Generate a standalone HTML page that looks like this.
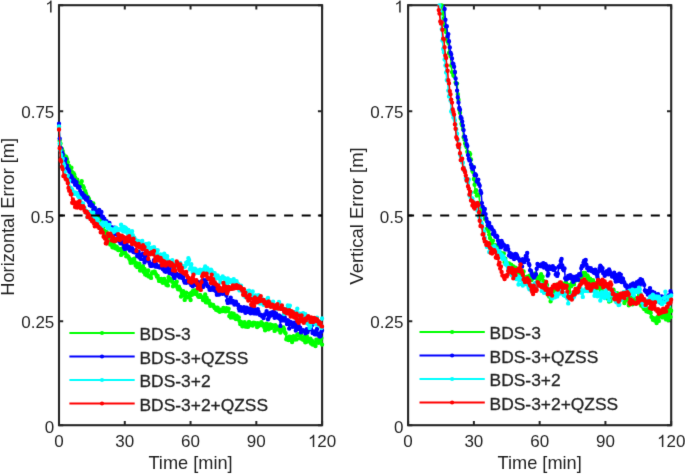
<!DOCTYPE html><html><head><meta charset="utf-8"><style>html,body{margin:0;padding:0;background:#fff;overflow:hidden}svg{display:block}text{font-family:"Liberation Sans",sans-serif;fill:#1f1f1f}</style></head><body>
<svg width="685" height="475" viewBox="0 0 685 475">
<defs>
<filter id="bl" x="0" y="0" width="1" height="1" color-interpolation-filters="sRGB"><feConvolveMatrix order="3" kernelMatrix="0.0081 0.0738 0.0081 0.0738 0.6724 0.0738 0.0081 0.0738 0.0081" divisor="1" edgeMode="duplicate"/></filter>
<clipPath id="cl"><rect x="59.0" y="5.2" width="263.1" height="420.0"/></clipPath>
<clipPath id="cld"><rect x="56.5" y="2.7" width="268.1" height="425.0"/></clipPath>
<clipPath id="cr"><rect x="408.1" y="5.2" width="263.1" height="420.0"/></clipPath>
<clipPath id="crd"><rect x="405.6" y="2.7" width="268.1" height="425.0"/></clipPath>
</defs>
<g filter="url(#bl)"><rect width="685" height="475" fill="#fff"/>
<rect x="59.0" y="5.2" width="263.1" height="420.0" fill="none" stroke="#262626" stroke-width="2.1"/><path d="M59.00 425.2v-4.2M59.00 5.2v4.2M59.0 425.20h4.2M322.1 425.20h-4.2M124.78 425.2v-4.2M124.78 5.2v4.2M59.0 321.20h4.2M322.1 321.20h-4.2M190.55 425.2v-4.2M190.55 5.2v4.2M59.0 215.60h4.2M322.1 215.60h-4.2M256.33 425.2v-4.2M256.33 5.2v4.2M59.0 111.20h4.2M322.1 111.20h-4.2M322.10 425.2v-4.2M322.10 5.2v4.2M59.0 5.20h4.2M322.1 5.20h-4.2" stroke="#262626" stroke-width="2" fill="none"/><text x="59.00" y="447" font-size="17" text-anchor="middle">0</text><text x="124.78" y="447" font-size="17" text-anchor="middle">30</text><text x="190.55" y="447" font-size="17" text-anchor="middle">60</text><text x="256.33" y="447" font-size="17" text-anchor="middle">90</text><polygon points="314.26,447.00 314.26,434.83 313.07,434.83 312.77,435.58 312.09,436.32 311.15,437.06 309.78,437.74 309.78,439.15 310.90,438.67 311.92,438.07 312.77,437.39 312.77,447.00" fill="#262626"/><text x="317.37" y="447" font-size="17">20</text><text x="54.30" y="432.60" font-size="17" text-anchor="end">0</text><text x="54.30" y="327.60" font-size="17" text-anchor="end">0.25</text><text x="54.30" y="222.60" font-size="17" text-anchor="end">0.5</text><text x="54.30" y="117.60" font-size="17" text-anchor="end">0.75</text><polygon points="51.59,12.60 51.59,0.43 50.40,0.43 50.09,1.18 49.41,1.92 48.48,2.66 47.10,3.34 47.10,4.75 48.22,4.27 49.24,3.68 50.09,3.00 50.09,12.60" fill="#262626"/><text x="190.55" y="468.5" font-size="18.2" text-anchor="middle">Time [min]</text><text transform="translate(13.8 216.80) rotate(-90)" font-size="18.2" text-anchor="middle">Horizontal Error [m]</text><g><polyline points="59.0,127.0 59.7,140.7 60.5,143.6 61.2,148.5 61.9,149.0 62.7,151.1 63.4,154.2 64.1,156.2 64.8,157.1 65.6,156.4 66.3,157.2 67.0,159.1 67.8,162.3 68.5,165.6 69.2,166.0 70.0,167.1 70.7,171.1 71.4,167.8 72.2,172.1 72.9,174.4 73.6,173.3 74.3,174.8 75.1,177.5 75.8,181.9 76.5,182.3 77.3,179.8 78.0,183.0 78.7,185.7 79.5,185.0 80.2,184.3 80.9,183.4 81.7,181.2 82.4,186.2 83.1,186.2 83.8,187.8 84.6,192.2 85.3,191.2 86.0,193.7 86.8,196.2 87.5,196.6 88.2,197.5 89.0,198.9 89.7,203.3 90.4,203.8 91.2,202.8 91.9,206.4 92.6,205.2 93.3,203.4 94.1,209.1 94.8,210.0 95.5,209.3 96.3,214.6 97.0,213.7 97.7,214.2 98.5,217.0 99.2,212.4 99.9,216.0 100.7,219.3 101.4,222.3 102.1,222.4 102.9,223.9 103.6,226.3 104.3,230.9 105.0,235.2 105.8,232.2 106.5,231.9 107.2,236.2 108.0,237.2 108.7,237.6 109.4,242.5 110.2,244.6 110.9,243.0 111.6,244.7 112.4,247.2 113.1,246.0 113.8,244.6 114.5,247.8 115.3,246.3 116.0,248.6 116.7,246.8 117.5,247.9 118.2,250.0 118.9,250.0 119.7,249.4 120.4,249.1 121.1,254.9 121.9,253.4 122.6,248.4 123.3,249.3 124.0,253.2 124.8,251.7 125.5,253.7 126.2,256.3 127.0,255.5 127.7,256.1 128.4,256.7 129.2,258.4 129.9,259.9 130.6,262.8 131.4,261.7 132.1,259.7 132.8,262.5 133.5,261.3 134.3,258.7 135.0,262.2 135.7,265.5 136.5,263.2 137.2,267.1 137.9,265.1 138.7,265.9 139.4,263.6 140.1,270.5 140.9,267.8 141.6,269.7 142.3,267.5 143.0,266.1 143.8,271.9 144.5,268.9 145.2,274.4 146.0,271.3 146.7,275.3 147.4,271.4 148.2,270.5 148.9,276.6 149.6,276.0 150.4,276.3 151.1,277.9 151.8,273.5 152.5,272.3 153.3,272.4 154.0,271.7 154.7,271.8 155.5,273.4 156.2,274.8 156.9,276.6 157.7,276.0 158.4,278.6 159.1,280.9 159.9,279.3 160.6,280.8 161.3,279.0 162.0,281.8 162.8,282.8 163.5,280.7 164.2,278.9 165.0,281.7 165.7,281.9 166.4,284.8 167.2,281.2 167.9,285.4 168.6,277.2 169.4,280.5 170.1,279.3 170.8,279.1 171.5,279.5 172.3,281.8 173.0,286.2 173.7,282.9 174.5,285.4 175.2,283.4 175.9,285.0 176.7,281.7 177.4,287.5 178.1,289.3 178.9,286.7 179.6,288.8 180.3,289.5 181.0,296.5 181.8,291.4 182.5,293.4 183.2,291.2 184.0,295.2 184.7,299.9 185.4,296.7 186.2,292.8 186.9,296.9 187.6,297.2 188.4,297.1 189.1,296.7 189.8,293.8 190.6,300.0 191.3,292.9 192.0,294.7 192.7,291.3 193.5,292.2 194.2,290.5 194.9,293.7 195.7,292.5 196.4,291.5 197.1,290.0 197.9,295.8 198.6,296.7 199.3,296.8 200.1,294.9 200.8,296.3 201.5,297.1 202.2,297.1 203.0,300.0 203.7,297.1 204.4,297.8 205.2,294.4 205.9,302.3 206.6,297.7 207.4,301.1 208.1,302.6 208.8,300.6 209.6,303.2 210.3,305.7 211.0,304.9 211.7,304.7 212.5,305.4 213.2,305.0 213.9,306.8 214.7,308.1 215.4,308.2 216.1,309.7 216.9,307.8 217.6,307.6 218.3,310.8 219.1,310.4 219.8,311.7 220.5,309.6 221.2,310.2 222.0,309.9 222.7,311.1 223.4,307.9 224.2,309.2 224.9,309.1 225.6,311.4 226.4,308.3 227.1,310.8 227.8,310.9 228.6,308.8 229.3,316.1 230.0,315.7 230.7,317.6 231.5,313.1 232.2,317.2 232.9,317.1 233.7,313.7 234.4,317.7 235.1,316.3 235.9,319.1 236.6,315.7 237.3,317.7 238.1,318.4 238.8,317.4 239.5,321.0 240.2,324.1 241.0,322.0 241.7,323.9 242.4,326.3 243.2,325.4 243.9,324.3 244.6,322.1 245.4,326.6 246.1,324.9 246.8,324.6 247.6,326.9 248.3,326.5 249.0,322.0 249.7,324.8 250.5,323.1 251.2,325.0 251.9,323.4 252.7,325.6 253.4,322.7 254.1,323.3 254.9,322.9 255.6,323.7 256.3,323.8 257.1,327.0 257.8,323.2 258.5,325.9 259.2,324.1 260.0,323.6 260.7,324.5 261.4,322.2 262.2,325.3 262.9,323.9 263.6,325.0 264.4,327.6 265.1,330.2 265.8,326.3 266.6,323.6 267.3,326.7 268.0,327.2 268.7,329.3 269.5,326.7 270.2,324.4 270.9,327.7 271.7,327.8 272.4,325.1 273.1,326.2 273.9,326.3 274.6,330.9 275.3,325.3 276.1,326.3 276.8,327.4 277.5,329.3 278.2,327.6 279.0,329.5 279.7,330.2 280.4,332.6 281.2,328.8 281.9,329.3 282.6,330.0 283.4,327.5 284.1,329.2 284.8,332.1 285.6,333.2 286.3,339.2 287.0,337.6 287.8,337.8 288.5,340.0 289.2,336.7 289.9,337.2 290.7,336.9 291.4,337.9 292.1,342.0 292.9,336.9 293.6,336.2 294.3,337.6 295.1,339.6 295.8,338.9 296.5,339.4 297.3,334.8 298.0,334.2 298.7,334.9 299.4,335.2 300.2,338.3 300.9,334.2 301.6,338.7 302.4,337.7 303.1,339.7 303.8,337.8 304.6,337.0 305.3,342.2 306.0,340.6 306.8,336.2 307.5,341.5 308.2,338.7 308.9,340.8 309.7,341.3 310.4,338.8 311.1,343.6 311.9,340.5 312.6,344.5 313.3,342.4 314.1,342.7 314.8,342.4 315.5,346.0 316.3,339.8 317.0,339.9 317.7,339.6 318.4,342.7 319.2,342.2 319.9,340.2 320.6,341.2 321.4,338.1 322.1,344.6" fill="none" stroke="#00ff00" stroke-width="1.6" stroke-linejoin="round" clip-path="url(#cl)"/><path d="M59.0 127.0h0M59.7 140.7h0M60.5 143.6h0M61.2 148.5h0M61.9 149.0h0M62.7 151.1h0M63.4 154.2h0M64.1 156.2h0M64.8 157.1h0M65.6 156.4h0M66.3 157.2h0M67.0 159.1h0M67.8 162.3h0M68.5 165.6h0M69.2 166.0h0M70.0 167.1h0M70.7 171.1h0M71.4 167.8h0M72.2 172.1h0M72.9 174.4h0M73.6 173.3h0M74.3 174.8h0M75.1 177.5h0M75.8 181.9h0M76.5 182.3h0M77.3 179.8h0M78.0 183.0h0M78.7 185.7h0M79.5 185.0h0M80.2 184.3h0M80.9 183.4h0M81.7 181.2h0M82.4 186.2h0M83.1 186.2h0M83.8 187.8h0M84.6 192.2h0M85.3 191.2h0M86.0 193.7h0M86.8 196.2h0M87.5 196.6h0M88.2 197.5h0M89.0 198.9h0M89.7 203.3h0M90.4 203.8h0M91.2 202.8h0M91.9 206.4h0M92.6 205.2h0M93.3 203.4h0M94.1 209.1h0M94.8 210.0h0M95.5 209.3h0M96.3 214.6h0M97.0 213.7h0M97.7 214.2h0M98.5 217.0h0M99.2 212.4h0M99.9 216.0h0M100.7 219.3h0M101.4 222.3h0M102.1 222.4h0M102.9 223.9h0M103.6 226.3h0M104.3 230.9h0M105.0 235.2h0M105.8 232.2h0M106.5 231.9h0M107.2 236.2h0M108.0 237.2h0M108.7 237.6h0M109.4 242.5h0M110.2 244.6h0M110.9 243.0h0M111.6 244.7h0M112.4 247.2h0M113.1 246.0h0M113.8 244.6h0M114.5 247.8h0M115.3 246.3h0M116.0 248.6h0M116.7 246.8h0M117.5 247.9h0M118.2 250.0h0M118.9 250.0h0M119.7 249.4h0M120.4 249.1h0M121.1 254.9h0M121.9 253.4h0M122.6 248.4h0M123.3 249.3h0M124.0 253.2h0M124.8 251.7h0M125.5 253.7h0M126.2 256.3h0M127.0 255.5h0M127.7 256.1h0M128.4 256.7h0M129.2 258.4h0M129.9 259.9h0M130.6 262.8h0M131.4 261.7h0M132.1 259.7h0M132.8 262.5h0M133.5 261.3h0M134.3 258.7h0M135.0 262.2h0M135.7 265.5h0M136.5 263.2h0M137.2 267.1h0M137.9 265.1h0M138.7 265.9h0M139.4 263.6h0M140.1 270.5h0M140.9 267.8h0M141.6 269.7h0M142.3 267.5h0M143.0 266.1h0M143.8 271.9h0M144.5 268.9h0M145.2 274.4h0M146.0 271.3h0M146.7 275.3h0M147.4 271.4h0M148.2 270.5h0M148.9 276.6h0M149.6 276.0h0M150.4 276.3h0M151.1 277.9h0M151.8 273.5h0M152.5 272.3h0M153.3 272.4h0M154.0 271.7h0M154.7 271.8h0M155.5 273.4h0M156.2 274.8h0M156.9 276.6h0M157.7 276.0h0M158.4 278.6h0M159.1 280.9h0M159.9 279.3h0M160.6 280.8h0M161.3 279.0h0M162.0 281.8h0M162.8 282.8h0M163.5 280.7h0M164.2 278.9h0M165.0 281.7h0M165.7 281.9h0M166.4 284.8h0M167.2 281.2h0M167.9 285.4h0M168.6 277.2h0M169.4 280.5h0M170.1 279.3h0M170.8 279.1h0M171.5 279.5h0M172.3 281.8h0M173.0 286.2h0M173.7 282.9h0M174.5 285.4h0M175.2 283.4h0M175.9 285.0h0M176.7 281.7h0M177.4 287.5h0M178.1 289.3h0M178.9 286.7h0M179.6 288.8h0M180.3 289.5h0M181.0 296.5h0M181.8 291.4h0M182.5 293.4h0M183.2 291.2h0M184.0 295.2h0M184.7 299.9h0M185.4 296.7h0M186.2 292.8h0M186.9 296.9h0M187.6 297.2h0M188.4 297.1h0M189.1 296.7h0M189.8 293.8h0M190.6 300.0h0M191.3 292.9h0M192.0 294.7h0M192.7 291.3h0M193.5 292.2h0M194.2 290.5h0M194.9 293.7h0M195.7 292.5h0M196.4 291.5h0M197.1 290.0h0M197.9 295.8h0M198.6 296.7h0M199.3 296.8h0M200.1 294.9h0M200.8 296.3h0M201.5 297.1h0M202.2 297.1h0M203.0 300.0h0M203.7 297.1h0M204.4 297.8h0M205.2 294.4h0M205.9 302.3h0M206.6 297.7h0M207.4 301.1h0M208.1 302.6h0M208.8 300.6h0M209.6 303.2h0M210.3 305.7h0M211.0 304.9h0M211.7 304.7h0M212.5 305.4h0M213.2 305.0h0M213.9 306.8h0M214.7 308.1h0M215.4 308.2h0M216.1 309.7h0M216.9 307.8h0M217.6 307.6h0M218.3 310.8h0M219.1 310.4h0M219.8 311.7h0M220.5 309.6h0M221.2 310.2h0M222.0 309.9h0M222.7 311.1h0M223.4 307.9h0M224.2 309.2h0M224.9 309.1h0M225.6 311.4h0M226.4 308.3h0M227.1 310.8h0M227.8 310.9h0M228.6 308.8h0M229.3 316.1h0M230.0 315.7h0M230.7 317.6h0M231.5 313.1h0M232.2 317.2h0M232.9 317.1h0M233.7 313.7h0M234.4 317.7h0M235.1 316.3h0M235.9 319.1h0M236.6 315.7h0M237.3 317.7h0M238.1 318.4h0M238.8 317.4h0M239.5 321.0h0M240.2 324.1h0M241.0 322.0h0M241.7 323.9h0M242.4 326.3h0M243.2 325.4h0M243.9 324.3h0M244.6 322.1h0M245.4 326.6h0M246.1 324.9h0M246.8 324.6h0M247.6 326.9h0M248.3 326.5h0M249.0 322.0h0M249.7 324.8h0M250.5 323.1h0M251.2 325.0h0M251.9 323.4h0M252.7 325.6h0M253.4 322.7h0M254.1 323.3h0M254.9 322.9h0M255.6 323.7h0M256.3 323.8h0M257.1 327.0h0M257.8 323.2h0M258.5 325.9h0M259.2 324.1h0M260.0 323.6h0M260.7 324.5h0M261.4 322.2h0M262.2 325.3h0M262.9 323.9h0M263.6 325.0h0M264.4 327.6h0M265.1 330.2h0M265.8 326.3h0M266.6 323.6h0M267.3 326.7h0M268.0 327.2h0M268.7 329.3h0M269.5 326.7h0M270.2 324.4h0M270.9 327.7h0M271.7 327.8h0M272.4 325.1h0M273.1 326.2h0M273.9 326.3h0M274.6 330.9h0M275.3 325.3h0M276.1 326.3h0M276.8 327.4h0M277.5 329.3h0M278.2 327.6h0M279.0 329.5h0M279.7 330.2h0M280.4 332.6h0M281.2 328.8h0M281.9 329.3h0M282.6 330.0h0M283.4 327.5h0M284.1 329.2h0M284.8 332.1h0M285.6 333.2h0M286.3 339.2h0M287.0 337.6h0M287.8 337.8h0M288.5 340.0h0M289.2 336.7h0M289.9 337.2h0M290.7 336.9h0M291.4 337.9h0M292.1 342.0h0M292.9 336.9h0M293.6 336.2h0M294.3 337.6h0M295.1 339.6h0M295.8 338.9h0M296.5 339.4h0M297.3 334.8h0M298.0 334.2h0M298.7 334.9h0M299.4 335.2h0M300.2 338.3h0M300.9 334.2h0M301.6 338.7h0M302.4 337.7h0M303.1 339.7h0M303.8 337.8h0M304.6 337.0h0M305.3 342.2h0M306.0 340.6h0M306.8 336.2h0M307.5 341.5h0M308.2 338.7h0M308.9 340.8h0M309.7 341.3h0M310.4 338.8h0M311.1 343.6h0M311.9 340.5h0M312.6 344.5h0M313.3 342.4h0M314.1 342.7h0M314.8 342.4h0M315.5 346.0h0M316.3 339.8h0M317.0 339.9h0M317.7 339.6h0M318.4 342.7h0M319.2 342.2h0M319.9 340.2h0M320.6 341.2h0M321.4 338.1h0M322.1 344.6h0" stroke="#00ff00" stroke-width="4.4" stroke-linecap="round" clip-path="url(#cld)"/><polyline points="59.0,123.8 59.7,138.6 60.5,147.7 61.2,148.6 61.9,152.1 62.7,154.3 63.4,158.6 64.1,159.3 64.8,162.7 65.6,159.1 66.3,167.4 67.0,165.6 67.8,168.9 68.5,169.5 69.2,171.3 70.0,174.9 70.7,177.1 71.4,176.3 72.2,177.9 72.9,181.5 73.6,180.4 74.3,180.2 75.1,184.8 75.8,183.8 76.5,182.3 77.3,185.8 78.0,187.5 78.7,186.8 79.5,187.0 80.2,190.9 80.9,194.1 81.7,192.9 82.4,193.2 83.1,196.4 83.8,197.5 84.6,195.8 85.3,197.8 86.0,199.6 86.8,197.9 87.5,197.6 88.2,201.1 89.0,202.2 89.7,205.2 90.4,201.9 91.2,204.5 91.9,205.9 92.6,205.3 93.3,209.7 94.1,210.7 94.8,207.9 95.5,212.2 96.3,211.4 97.0,211.7 97.7,212.2 98.5,213.8 99.2,209.9 99.9,214.5 100.7,215.4 101.4,211.9 102.1,216.9 102.9,216.6 103.6,219.6 104.3,218.6 105.0,220.7 105.8,222.9 106.5,221.3 107.2,224.7 108.0,223.4 108.7,224.3 109.4,222.9 110.2,226.8 110.9,227.4 111.6,227.3 112.4,229.7 113.1,231.7 113.8,233.5 114.5,227.8 115.3,234.1 116.0,234.3 116.7,234.5 117.5,234.4 118.2,240.6 118.9,236.9 119.7,241.3 120.4,243.2 121.1,238.0 121.9,241.3 122.6,240.3 123.3,244.4 124.0,247.6 124.8,249.0 125.5,241.3 126.2,243.6 127.0,246.0 127.7,248.6 128.4,247.7 129.2,247.0 129.9,250.5 130.6,249.9 131.4,249.5 132.1,248.3 132.8,251.1 133.5,252.1 134.3,252.2 135.0,252.3 135.7,250.2 136.5,252.0 137.2,256.1 137.9,254.0 138.7,252.0 139.4,257.6 140.1,255.8 140.9,258.9 141.6,255.0 142.3,254.8 143.0,253.6 143.8,259.6 144.5,262.4 145.2,255.6 146.0,256.7 146.7,259.8 147.4,258.2 148.2,260.5 148.9,261.3 149.6,263.3 150.4,265.7 151.1,263.9 151.8,265.9 152.5,263.8 153.3,265.2 154.0,260.3 154.7,261.7 155.5,266.5 156.2,264.3 156.9,266.6 157.7,266.2 158.4,267.1 159.1,266.2 159.9,267.5 160.6,266.3 161.3,266.4 162.0,267.5 162.8,269.1 163.5,268.9 164.2,270.5 165.0,271.4 165.7,271.8 166.4,270.3 167.2,267.2 167.9,270.7 168.6,271.4 169.4,273.0 170.1,271.8 170.8,269.0 171.5,268.5 172.3,274.3 173.0,272.8 173.7,276.6 174.5,278.0 175.2,272.4 175.9,274.3 176.7,274.0 177.4,274.7 178.1,275.6 178.9,276.3 179.6,277.4 180.3,274.6 181.0,277.5 181.8,276.1 182.5,278.0 183.2,277.5 184.0,280.7 184.7,282.5 185.4,282.4 186.2,282.8 186.9,282.2 187.6,280.5 188.4,280.8 189.1,280.3 189.8,282.8 190.6,283.1 191.3,285.1 192.0,281.7 192.7,286.2 193.5,282.5 194.2,282.4 194.9,283.7 195.7,283.2 196.4,285.0 197.1,283.0 197.9,281.9 198.6,282.4 199.3,287.0 200.1,285.0 200.8,282.5 201.5,284.4 202.2,280.8 203.0,287.1 203.7,280.3 204.4,284.1 205.2,284.2 205.9,280.2 206.6,283.8 207.4,286.0 208.1,286.2 208.8,287.0 209.6,289.7 210.3,289.0 211.0,289.7 211.7,288.7 212.5,289.6 213.2,286.6 213.9,290.1 214.7,288.3 215.4,288.2 216.1,291.6 216.9,294.8 217.6,293.7 218.3,291.3 219.1,294.6 219.8,292.5 220.5,293.5 221.2,293.4 222.0,288.6 222.7,293.8 223.4,291.1 224.2,292.1 224.9,291.3 225.6,292.7 226.4,295.6 227.1,300.6 227.8,302.9 228.6,299.7 229.3,302.4 230.0,300.4 230.7,297.6 231.5,302.0 232.2,302.5 232.9,301.0 233.7,303.1 234.4,304.5 235.1,302.6 235.9,301.8 236.6,304.6 237.3,304.8 238.1,304.8 238.8,308.3 239.5,310.4 240.2,306.9 241.0,310.1 241.7,310.8 242.4,310.1 243.2,310.4 243.9,307.1 244.6,309.8 245.4,312.7 246.1,310.5 246.8,307.6 247.6,310.1 248.3,311.8 249.0,310.4 249.7,308.9 250.5,313.3 251.2,307.9 251.9,311.4 252.7,310.4 253.4,308.1 254.1,313.4 254.9,312.1 255.6,309.8 256.3,313.6 257.1,311.8 257.8,309.1 258.5,311.8 259.2,314.1 260.0,315.0 260.7,314.7 261.4,315.0 262.2,316.5 262.9,315.6 263.6,318.0 264.4,315.2 265.1,314.3 265.8,314.1 266.6,311.3 267.3,313.1 268.0,319.3 268.7,317.7 269.5,316.0 270.2,315.8 270.9,312.7 271.7,313.7 272.4,312.1 273.1,314.9 273.9,311.6 274.6,317.8 275.3,314.8 276.1,313.4 276.8,316.9 277.5,316.7 278.2,317.7 279.0,315.4 279.7,318.7 280.4,325.9 281.2,316.7 281.9,320.4 282.6,319.4 283.4,320.4 284.1,316.2 284.8,317.4 285.6,320.7 286.3,320.2 287.0,324.1 287.8,320.3 288.5,322.8 289.2,328.6 289.9,321.8 290.7,321.9 291.4,324.5 292.1,324.8 292.9,326.7 293.6,324.9 294.3,322.7 295.1,325.0 295.8,330.6 296.5,328.9 297.3,321.4 298.0,327.0 298.7,325.7 299.4,328.9 300.2,327.7 300.9,332.2 301.6,330.7 302.4,331.1 303.1,330.2 303.8,330.4 304.6,331.4 305.3,333.2 306.0,331.4 306.8,329.2 307.5,332.3 308.2,330.0 308.9,329.8 309.7,328.8 310.4,329.4 311.1,329.4 311.9,325.3 312.6,333.1 313.3,332.5 314.1,331.5 314.8,334.3 315.5,333.8 316.3,334.2 317.0,329.0 317.7,333.4 318.4,334.2 319.2,336.0 319.9,336.5 320.6,336.1 321.4,331.7 322.1,330.3" fill="none" stroke="#0000ff" stroke-width="1.6" stroke-linejoin="round" clip-path="url(#cl)"/><path d="M59.0 123.8h0M59.7 138.6h0M60.5 147.7h0M61.2 148.6h0M61.9 152.1h0M62.7 154.3h0M63.4 158.6h0M64.1 159.3h0M64.8 162.7h0M65.6 159.1h0M66.3 167.4h0M67.0 165.6h0M67.8 168.9h0M68.5 169.5h0M69.2 171.3h0M70.0 174.9h0M70.7 177.1h0M71.4 176.3h0M72.2 177.9h0M72.9 181.5h0M73.6 180.4h0M74.3 180.2h0M75.1 184.8h0M75.8 183.8h0M76.5 182.3h0M77.3 185.8h0M78.0 187.5h0M78.7 186.8h0M79.5 187.0h0M80.2 190.9h0M80.9 194.1h0M81.7 192.9h0M82.4 193.2h0M83.1 196.4h0M83.8 197.5h0M84.6 195.8h0M85.3 197.8h0M86.0 199.6h0M86.8 197.9h0M87.5 197.6h0M88.2 201.1h0M89.0 202.2h0M89.7 205.2h0M90.4 201.9h0M91.2 204.5h0M91.9 205.9h0M92.6 205.3h0M93.3 209.7h0M94.1 210.7h0M94.8 207.9h0M95.5 212.2h0M96.3 211.4h0M97.0 211.7h0M97.7 212.2h0M98.5 213.8h0M99.2 209.9h0M99.9 214.5h0M100.7 215.4h0M101.4 211.9h0M102.1 216.9h0M102.9 216.6h0M103.6 219.6h0M104.3 218.6h0M105.0 220.7h0M105.8 222.9h0M106.5 221.3h0M107.2 224.7h0M108.0 223.4h0M108.7 224.3h0M109.4 222.9h0M110.2 226.8h0M110.9 227.4h0M111.6 227.3h0M112.4 229.7h0M113.1 231.7h0M113.8 233.5h0M114.5 227.8h0M115.3 234.1h0M116.0 234.3h0M116.7 234.5h0M117.5 234.4h0M118.2 240.6h0M118.9 236.9h0M119.7 241.3h0M120.4 243.2h0M121.1 238.0h0M121.9 241.3h0M122.6 240.3h0M123.3 244.4h0M124.0 247.6h0M124.8 249.0h0M125.5 241.3h0M126.2 243.6h0M127.0 246.0h0M127.7 248.6h0M128.4 247.7h0M129.2 247.0h0M129.9 250.5h0M130.6 249.9h0M131.4 249.5h0M132.1 248.3h0M132.8 251.1h0M133.5 252.1h0M134.3 252.2h0M135.0 252.3h0M135.7 250.2h0M136.5 252.0h0M137.2 256.1h0M137.9 254.0h0M138.7 252.0h0M139.4 257.6h0M140.1 255.8h0M140.9 258.9h0M141.6 255.0h0M142.3 254.8h0M143.0 253.6h0M143.8 259.6h0M144.5 262.4h0M145.2 255.6h0M146.0 256.7h0M146.7 259.8h0M147.4 258.2h0M148.2 260.5h0M148.9 261.3h0M149.6 263.3h0M150.4 265.7h0M151.1 263.9h0M151.8 265.9h0M152.5 263.8h0M153.3 265.2h0M154.0 260.3h0M154.7 261.7h0M155.5 266.5h0M156.2 264.3h0M156.9 266.6h0M157.7 266.2h0M158.4 267.1h0M159.1 266.2h0M159.9 267.5h0M160.6 266.3h0M161.3 266.4h0M162.0 267.5h0M162.8 269.1h0M163.5 268.9h0M164.2 270.5h0M165.0 271.4h0M165.7 271.8h0M166.4 270.3h0M167.2 267.2h0M167.9 270.7h0M168.6 271.4h0M169.4 273.0h0M170.1 271.8h0M170.8 269.0h0M171.5 268.5h0M172.3 274.3h0M173.0 272.8h0M173.7 276.6h0M174.5 278.0h0M175.2 272.4h0M175.9 274.3h0M176.7 274.0h0M177.4 274.7h0M178.1 275.6h0M178.9 276.3h0M179.6 277.4h0M180.3 274.6h0M181.0 277.5h0M181.8 276.1h0M182.5 278.0h0M183.2 277.5h0M184.0 280.7h0M184.7 282.5h0M185.4 282.4h0M186.2 282.8h0M186.9 282.2h0M187.6 280.5h0M188.4 280.8h0M189.1 280.3h0M189.8 282.8h0M190.6 283.1h0M191.3 285.1h0M192.0 281.7h0M192.7 286.2h0M193.5 282.5h0M194.2 282.4h0M194.9 283.7h0M195.7 283.2h0M196.4 285.0h0M197.1 283.0h0M197.9 281.9h0M198.6 282.4h0M199.3 287.0h0M200.1 285.0h0M200.8 282.5h0M201.5 284.4h0M202.2 280.8h0M203.0 287.1h0M203.7 280.3h0M204.4 284.1h0M205.2 284.2h0M205.9 280.2h0M206.6 283.8h0M207.4 286.0h0M208.1 286.2h0M208.8 287.0h0M209.6 289.7h0M210.3 289.0h0M211.0 289.7h0M211.7 288.7h0M212.5 289.6h0M213.2 286.6h0M213.9 290.1h0M214.7 288.3h0M215.4 288.2h0M216.1 291.6h0M216.9 294.8h0M217.6 293.7h0M218.3 291.3h0M219.1 294.6h0M219.8 292.5h0M220.5 293.5h0M221.2 293.4h0M222.0 288.6h0M222.7 293.8h0M223.4 291.1h0M224.2 292.1h0M224.9 291.3h0M225.6 292.7h0M226.4 295.6h0M227.1 300.6h0M227.8 302.9h0M228.6 299.7h0M229.3 302.4h0M230.0 300.4h0M230.7 297.6h0M231.5 302.0h0M232.2 302.5h0M232.9 301.0h0M233.7 303.1h0M234.4 304.5h0M235.1 302.6h0M235.9 301.8h0M236.6 304.6h0M237.3 304.8h0M238.1 304.8h0M238.8 308.3h0M239.5 310.4h0M240.2 306.9h0M241.0 310.1h0M241.7 310.8h0M242.4 310.1h0M243.2 310.4h0M243.9 307.1h0M244.6 309.8h0M245.4 312.7h0M246.1 310.5h0M246.8 307.6h0M247.6 310.1h0M248.3 311.8h0M249.0 310.4h0M249.7 308.9h0M250.5 313.3h0M251.2 307.9h0M251.9 311.4h0M252.7 310.4h0M253.4 308.1h0M254.1 313.4h0M254.9 312.1h0M255.6 309.8h0M256.3 313.6h0M257.1 311.8h0M257.8 309.1h0M258.5 311.8h0M259.2 314.1h0M260.0 315.0h0M260.7 314.7h0M261.4 315.0h0M262.2 316.5h0M262.9 315.6h0M263.6 318.0h0M264.4 315.2h0M265.1 314.3h0M265.8 314.1h0M266.6 311.3h0M267.3 313.1h0M268.0 319.3h0M268.7 317.7h0M269.5 316.0h0M270.2 315.8h0M270.9 312.7h0M271.7 313.7h0M272.4 312.1h0M273.1 314.9h0M273.9 311.6h0M274.6 317.8h0M275.3 314.8h0M276.1 313.4h0M276.8 316.9h0M277.5 316.7h0M278.2 317.7h0M279.0 315.4h0M279.7 318.7h0M280.4 325.9h0M281.2 316.7h0M281.9 320.4h0M282.6 319.4h0M283.4 320.4h0M284.1 316.2h0M284.8 317.4h0M285.6 320.7h0M286.3 320.2h0M287.0 324.1h0M287.8 320.3h0M288.5 322.8h0M289.2 328.6h0M289.9 321.8h0M290.7 321.9h0M291.4 324.5h0M292.1 324.8h0M292.9 326.7h0M293.6 324.9h0M294.3 322.7h0M295.1 325.0h0M295.8 330.6h0M296.5 328.9h0M297.3 321.4h0M298.0 327.0h0M298.7 325.7h0M299.4 328.9h0M300.2 327.7h0M300.9 332.2h0M301.6 330.7h0M302.4 331.1h0M303.1 330.2h0M303.8 330.4h0M304.6 331.4h0M305.3 333.2h0M306.0 331.4h0M306.8 329.2h0M307.5 332.3h0M308.2 330.0h0M308.9 329.8h0M309.7 328.8h0M310.4 329.4h0M311.1 329.4h0M311.9 325.3h0M312.6 333.1h0M313.3 332.5h0M314.1 331.5h0M314.8 334.3h0M315.5 333.8h0M316.3 334.2h0M317.0 329.0h0M317.7 333.4h0M318.4 334.2h0M319.2 336.0h0M319.9 336.5h0M320.6 336.1h0M321.4 331.7h0M322.1 330.3h0" stroke="#0000ff" stroke-width="4.4" stroke-linecap="round" clip-path="url(#cld)"/><polyline points="59.0,126.4 59.7,143.4 60.5,150.0 61.2,154.9 61.9,160.5 62.7,158.7 63.4,163.4 64.1,165.6 64.8,171.7 65.6,177.3 66.3,177.0 67.0,179.4 67.8,175.8 68.5,181.3 69.2,180.7 70.0,187.7 70.7,187.8 71.4,189.8 72.2,189.5 72.9,192.5 73.6,193.9 74.3,192.5 75.1,192.5 75.8,193.7 76.5,193.0 77.3,193.9 78.0,195.9 78.7,196.9 79.5,201.7 80.2,198.5 80.9,204.7 81.7,202.8 82.4,204.3 83.1,203.8 83.8,207.3 84.6,208.1 85.3,210.4 86.0,210.6 86.8,213.2 87.5,217.2 88.2,214.3 89.0,211.9 89.7,214.7 90.4,212.8 91.2,215.0 91.9,215.9 92.6,214.9 93.3,212.6 94.1,216.2 94.8,218.8 95.5,217.6 96.3,220.4 97.0,221.9 97.7,219.4 98.5,223.3 99.2,224.4 99.9,223.8 100.7,224.1 101.4,224.0 102.1,226.3 102.9,222.5 103.6,222.7 104.3,224.9 105.0,223.1 105.8,222.6 106.5,224.8 107.2,227.5 108.0,228.3 108.7,225.0 109.4,225.0 110.2,228.8 110.9,229.0 111.6,229.3 112.4,230.8 113.1,232.2 113.8,230.7 114.5,231.4 115.3,228.0 116.0,227.6 116.7,230.1 117.5,230.5 118.2,229.9 118.9,229.3 119.7,229.6 120.4,229.5 121.1,224.7 121.9,227.2 122.6,230.4 123.3,231.3 124.0,226.9 124.8,231.6 125.5,227.7 126.2,228.8 127.0,231.2 127.7,233.4 128.4,230.0 129.2,235.2 129.9,233.7 130.6,232.5 131.4,234.1 132.1,231.2 132.8,235.3 133.5,238.2 134.3,237.8 135.0,239.5 135.7,240.2 136.5,240.5 137.2,242.6 137.9,241.1 138.7,241.3 139.4,244.0 140.1,247.9 140.9,243.6 141.6,245.5 142.3,241.0 143.0,246.5 143.8,245.3 144.5,247.4 145.2,245.5 146.0,244.0 146.7,247.7 147.4,247.1 148.2,243.8 148.9,243.5 149.6,248.6 150.4,248.4 151.1,254.1 151.8,247.6 152.5,247.7 153.3,249.2 154.0,247.1 154.7,249.5 155.5,255.2 156.2,251.6 156.9,251.1 157.7,250.3 158.4,255.0 159.1,256.0 159.9,255.5 160.6,254.5 161.3,256.0 162.0,256.9 162.8,255.5 163.5,258.9 164.2,253.8 165.0,255.3 165.7,257.1 166.4,257.7 167.2,256.2 167.9,260.3 168.6,262.7 169.4,262.1 170.1,261.5 170.8,262.6 171.5,262.4 172.3,260.3 173.0,263.9 173.7,268.2 174.5,264.0 175.2,266.7 175.9,265.4 176.7,264.0 177.4,263.6 178.1,265.9 178.9,266.6 179.6,266.9 180.3,263.3 181.0,265.5 181.8,266.5 182.5,267.4 183.2,266.5 184.0,266.2 184.7,266.7 185.4,266.0 186.2,262.8 186.9,264.0 187.6,261.8 188.4,258.3 189.1,260.0 189.8,269.2 190.6,264.8 191.3,264.3 192.0,268.1 192.7,272.3 193.5,269.0 194.2,270.0 194.9,268.8 195.7,269.4 196.4,272.6 197.1,272.2 197.9,271.0 198.6,272.8 199.3,272.8 200.1,269.8 200.8,271.0 201.5,271.7 202.2,270.2 203.0,273.6 203.7,270.1 204.4,268.7 205.2,266.4 205.9,267.5 206.6,273.2 207.4,268.2 208.1,271.6 208.8,270.1 209.6,272.0 210.3,272.0 211.0,269.6 211.7,271.0 212.5,272.5 213.2,273.3 213.9,273.2 214.7,273.2 215.4,275.9 216.1,278.2 216.9,277.4 217.6,275.4 218.3,278.0 219.1,277.8 219.8,279.1 220.5,282.3 221.2,278.0 222.0,278.2 222.7,276.5 223.4,278.1 224.2,277.9 224.9,282.7 225.6,280.4 226.4,279.1 227.1,284.7 227.8,278.4 228.6,282.3 229.3,282.1 230.0,281.3 230.7,280.2 231.5,281.5 232.2,282.0 232.9,285.0 233.7,279.2 234.4,283.2 235.1,284.9 235.9,283.4 236.6,281.2 237.3,284.8 238.1,284.3 238.8,288.1 239.5,290.4 240.2,288.6 241.0,285.6 241.7,289.8 242.4,289.0 243.2,293.0 243.9,295.4 244.6,293.4 245.4,297.0 246.1,296.2 246.8,294.5 247.6,291.2 248.3,293.5 249.0,290.6 249.7,296.2 250.5,294.8 251.2,297.8 251.9,296.1 252.7,291.4 253.4,296.4 254.1,297.2 254.9,299.4 255.6,295.4 256.3,296.3 257.1,298.6 257.8,296.2 258.5,295.3 259.2,295.8 260.0,303.5 260.7,297.9 261.4,298.3 262.2,301.0 262.9,302.3 263.6,304.7 264.4,303.4 265.1,302.7 265.8,301.1 266.6,301.2 267.3,299.3 268.0,298.0 268.7,305.8 269.5,302.1 270.2,306.2 270.9,303.9 271.7,304.4 272.4,303.9 273.1,301.6 273.9,304.9 274.6,306.6 275.3,308.0 276.1,307.6 276.8,308.6 277.5,307.1 278.2,306.3 279.0,301.9 279.7,304.5 280.4,308.4 281.2,306.1 281.9,308.7 282.6,308.2 283.4,308.4 284.1,314.0 284.8,310.1 285.6,311.8 286.3,309.9 287.0,308.9 287.8,305.4 288.5,310.1 289.2,306.7 289.9,305.6 290.7,313.3 291.4,313.1 292.1,313.6 292.9,312.4 293.6,312.0 294.3,312.8 295.1,312.3 295.8,312.5 296.5,314.5 297.3,308.8 298.0,316.1 298.7,313.5 299.4,316.7 300.2,317.7 300.9,313.9 301.6,317.2 302.4,316.7 303.1,313.3 303.8,313.7 304.6,316.7 305.3,314.1 306.0,319.9 306.8,322.9 307.5,323.4 308.2,322.7 308.9,324.8 309.7,327.9 310.4,326.5 311.1,322.8 311.9,320.8 312.6,321.7 313.3,321.6 314.1,320.3 314.8,321.7 315.5,324.1 316.3,324.6 317.0,317.8 317.7,324.4 318.4,323.0 319.2,325.6 319.9,323.9 320.6,325.5 321.4,328.0 322.1,318.5" fill="none" stroke="#00ffff" stroke-width="1.6" stroke-linejoin="round" clip-path="url(#cl)"/><path d="M59.0 126.4h0M59.7 143.4h0M60.5 150.0h0M61.2 154.9h0M61.9 160.5h0M62.7 158.7h0M63.4 163.4h0M64.1 165.6h0M64.8 171.7h0M65.6 177.3h0M66.3 177.0h0M67.0 179.4h0M67.8 175.8h0M68.5 181.3h0M69.2 180.7h0M70.0 187.7h0M70.7 187.8h0M71.4 189.8h0M72.2 189.5h0M72.9 192.5h0M73.6 193.9h0M74.3 192.5h0M75.1 192.5h0M75.8 193.7h0M76.5 193.0h0M77.3 193.9h0M78.0 195.9h0M78.7 196.9h0M79.5 201.7h0M80.2 198.5h0M80.9 204.7h0M81.7 202.8h0M82.4 204.3h0M83.1 203.8h0M83.8 207.3h0M84.6 208.1h0M85.3 210.4h0M86.0 210.6h0M86.8 213.2h0M87.5 217.2h0M88.2 214.3h0M89.0 211.9h0M89.7 214.7h0M90.4 212.8h0M91.2 215.0h0M91.9 215.9h0M92.6 214.9h0M93.3 212.6h0M94.1 216.2h0M94.8 218.8h0M95.5 217.6h0M96.3 220.4h0M97.0 221.9h0M97.7 219.4h0M98.5 223.3h0M99.2 224.4h0M99.9 223.8h0M100.7 224.1h0M101.4 224.0h0M102.1 226.3h0M102.9 222.5h0M103.6 222.7h0M104.3 224.9h0M105.0 223.1h0M105.8 222.6h0M106.5 224.8h0M107.2 227.5h0M108.0 228.3h0M108.7 225.0h0M109.4 225.0h0M110.2 228.8h0M110.9 229.0h0M111.6 229.3h0M112.4 230.8h0M113.1 232.2h0M113.8 230.7h0M114.5 231.4h0M115.3 228.0h0M116.0 227.6h0M116.7 230.1h0M117.5 230.5h0M118.2 229.9h0M118.9 229.3h0M119.7 229.6h0M120.4 229.5h0M121.1 224.7h0M121.9 227.2h0M122.6 230.4h0M123.3 231.3h0M124.0 226.9h0M124.8 231.6h0M125.5 227.7h0M126.2 228.8h0M127.0 231.2h0M127.7 233.4h0M128.4 230.0h0M129.2 235.2h0M129.9 233.7h0M130.6 232.5h0M131.4 234.1h0M132.1 231.2h0M132.8 235.3h0M133.5 238.2h0M134.3 237.8h0M135.0 239.5h0M135.7 240.2h0M136.5 240.5h0M137.2 242.6h0M137.9 241.1h0M138.7 241.3h0M139.4 244.0h0M140.1 247.9h0M140.9 243.6h0M141.6 245.5h0M142.3 241.0h0M143.0 246.5h0M143.8 245.3h0M144.5 247.4h0M145.2 245.5h0M146.0 244.0h0M146.7 247.7h0M147.4 247.1h0M148.2 243.8h0M148.9 243.5h0M149.6 248.6h0M150.4 248.4h0M151.1 254.1h0M151.8 247.6h0M152.5 247.7h0M153.3 249.2h0M154.0 247.1h0M154.7 249.5h0M155.5 255.2h0M156.2 251.6h0M156.9 251.1h0M157.7 250.3h0M158.4 255.0h0M159.1 256.0h0M159.9 255.5h0M160.6 254.5h0M161.3 256.0h0M162.0 256.9h0M162.8 255.5h0M163.5 258.9h0M164.2 253.8h0M165.0 255.3h0M165.7 257.1h0M166.4 257.7h0M167.2 256.2h0M167.9 260.3h0M168.6 262.7h0M169.4 262.1h0M170.1 261.5h0M170.8 262.6h0M171.5 262.4h0M172.3 260.3h0M173.0 263.9h0M173.7 268.2h0M174.5 264.0h0M175.2 266.7h0M175.9 265.4h0M176.7 264.0h0M177.4 263.6h0M178.1 265.9h0M178.9 266.6h0M179.6 266.9h0M180.3 263.3h0M181.0 265.5h0M181.8 266.5h0M182.5 267.4h0M183.2 266.5h0M184.0 266.2h0M184.7 266.7h0M185.4 266.0h0M186.2 262.8h0M186.9 264.0h0M187.6 261.8h0M188.4 258.3h0M189.1 260.0h0M189.8 269.2h0M190.6 264.8h0M191.3 264.3h0M192.0 268.1h0M192.7 272.3h0M193.5 269.0h0M194.2 270.0h0M194.9 268.8h0M195.7 269.4h0M196.4 272.6h0M197.1 272.2h0M197.9 271.0h0M198.6 272.8h0M199.3 272.8h0M200.1 269.8h0M200.8 271.0h0M201.5 271.7h0M202.2 270.2h0M203.0 273.6h0M203.7 270.1h0M204.4 268.7h0M205.2 266.4h0M205.9 267.5h0M206.6 273.2h0M207.4 268.2h0M208.1 271.6h0M208.8 270.1h0M209.6 272.0h0M210.3 272.0h0M211.0 269.6h0M211.7 271.0h0M212.5 272.5h0M213.2 273.3h0M213.9 273.2h0M214.7 273.2h0M215.4 275.9h0M216.1 278.2h0M216.9 277.4h0M217.6 275.4h0M218.3 278.0h0M219.1 277.8h0M219.8 279.1h0M220.5 282.3h0M221.2 278.0h0M222.0 278.2h0M222.7 276.5h0M223.4 278.1h0M224.2 277.9h0M224.9 282.7h0M225.6 280.4h0M226.4 279.1h0M227.1 284.7h0M227.8 278.4h0M228.6 282.3h0M229.3 282.1h0M230.0 281.3h0M230.7 280.2h0M231.5 281.5h0M232.2 282.0h0M232.9 285.0h0M233.7 279.2h0M234.4 283.2h0M235.1 284.9h0M235.9 283.4h0M236.6 281.2h0M237.3 284.8h0M238.1 284.3h0M238.8 288.1h0M239.5 290.4h0M240.2 288.6h0M241.0 285.6h0M241.7 289.8h0M242.4 289.0h0M243.2 293.0h0M243.9 295.4h0M244.6 293.4h0M245.4 297.0h0M246.1 296.2h0M246.8 294.5h0M247.6 291.2h0M248.3 293.5h0M249.0 290.6h0M249.7 296.2h0M250.5 294.8h0M251.2 297.8h0M251.9 296.1h0M252.7 291.4h0M253.4 296.4h0M254.1 297.2h0M254.9 299.4h0M255.6 295.4h0M256.3 296.3h0M257.1 298.6h0M257.8 296.2h0M258.5 295.3h0M259.2 295.8h0M260.0 303.5h0M260.7 297.9h0M261.4 298.3h0M262.2 301.0h0M262.9 302.3h0M263.6 304.7h0M264.4 303.4h0M265.1 302.7h0M265.8 301.1h0M266.6 301.2h0M267.3 299.3h0M268.0 298.0h0M268.7 305.8h0M269.5 302.1h0M270.2 306.2h0M270.9 303.9h0M271.7 304.4h0M272.4 303.9h0M273.1 301.6h0M273.9 304.9h0M274.6 306.6h0M275.3 308.0h0M276.1 307.6h0M276.8 308.6h0M277.5 307.1h0M278.2 306.3h0M279.0 301.9h0M279.7 304.5h0M280.4 308.4h0M281.2 306.1h0M281.9 308.7h0M282.6 308.2h0M283.4 308.4h0M284.1 314.0h0M284.8 310.1h0M285.6 311.8h0M286.3 309.9h0M287.0 308.9h0M287.8 305.4h0M288.5 310.1h0M289.2 306.7h0M289.9 305.6h0M290.7 313.3h0M291.4 313.1h0M292.1 313.6h0M292.9 312.4h0M293.6 312.0h0M294.3 312.8h0M295.1 312.3h0M295.8 312.5h0M296.5 314.5h0M297.3 308.8h0M298.0 316.1h0M298.7 313.5h0M299.4 316.7h0M300.2 317.7h0M300.9 313.9h0M301.6 317.2h0M302.4 316.7h0M303.1 313.3h0M303.8 313.7h0M304.6 316.7h0M305.3 314.1h0M306.0 319.9h0M306.8 322.9h0M307.5 323.4h0M308.2 322.7h0M308.9 324.8h0M309.7 327.9h0M310.4 326.5h0M311.1 322.8h0M311.9 320.8h0M312.6 321.7h0M313.3 321.6h0M314.1 320.3h0M314.8 321.7h0M315.5 324.1h0M316.3 324.6h0M317.0 317.8h0M317.7 324.4h0M318.4 323.0h0M319.2 325.6h0M319.9 323.9h0M320.6 325.5h0M321.4 328.0h0M322.1 318.5h0" stroke="#00ffff" stroke-width="4.4" stroke-linecap="round" clip-path="url(#cld)"/><polyline points="59.0,129.5 59.7,148.2 60.5,160.0 61.2,161.3 61.9,166.9 62.7,169.1 63.4,176.1 64.1,175.5 64.8,175.6 65.6,178.7 66.3,179.6 67.0,179.9 67.8,183.0 68.5,187.9 69.2,190.7 70.0,190.9 70.7,194.3 71.4,194.2 72.2,202.7 72.9,199.5 73.6,203.2 74.3,202.3 75.1,206.9 75.8,207.2 76.5,205.3 77.3,207.6 78.0,202.3 78.7,206.7 79.5,201.2 80.2,205.7 80.9,208.2 81.7,207.5 82.4,206.9 83.1,206.3 83.8,207.4 84.6,210.7 85.3,212.3 86.0,211.8 86.8,211.7 87.5,216.9 88.2,213.9 89.0,215.9 89.7,215.7 90.4,219.1 91.2,219.2 91.9,221.1 92.6,221.6 93.3,220.7 94.1,223.8 94.8,226.3 95.5,223.8 96.3,225.2 97.0,224.2 97.7,226.5 98.5,226.7 99.2,228.1 99.9,228.1 100.7,232.2 101.4,229.8 102.1,231.7 102.9,232.6 103.6,236.8 104.3,236.4 105.0,238.6 105.8,243.2 106.5,243.6 107.2,241.5 108.0,233.8 108.7,236.1 109.4,234.7 110.2,233.6 110.9,234.9 111.6,240.3 112.4,237.3 113.1,237.3 113.8,241.0 114.5,240.5 115.3,241.1 116.0,238.9 116.7,239.3 117.5,239.4 118.2,234.3 118.9,234.9 119.7,240.1 120.4,239.2 121.1,236.3 121.9,235.8 122.6,238.4 123.3,237.0 124.0,238.7 124.8,242.0 125.5,238.4 126.2,240.2 127.0,237.5 127.7,238.9 128.4,241.2 129.2,236.3 129.9,238.8 130.6,239.9 131.4,241.3 132.1,244.0 132.8,242.3 133.5,238.8 134.3,242.7 135.0,243.3 135.7,244.8 136.5,250.9 137.2,244.4 137.9,246.0 138.7,243.9 139.4,247.3 140.1,246.9 140.9,247.0 141.6,246.8 142.3,249.2 143.0,245.2 143.8,246.6 144.5,247.1 145.2,253.6 146.0,251.5 146.7,250.9 147.4,252.9 148.2,258.8 148.9,252.9 149.6,254.4 150.4,253.3 151.1,252.9 151.8,252.3 152.5,253.8 153.3,254.3 154.0,251.0 154.7,261.0 155.5,258.2 156.2,257.3 156.9,257.4 157.7,256.8 158.4,260.4 159.1,258.4 159.9,260.6 160.6,257.9 161.3,262.4 162.0,265.4 162.8,260.6 163.5,262.4 164.2,261.5 165.0,264.6 165.7,265.5 166.4,264.0 167.2,262.4 167.9,264.0 168.6,263.2 169.4,262.3 170.1,265.0 170.8,265.6 171.5,263.1 172.3,264.2 173.0,270.2 173.7,266.2 174.5,265.5 175.2,270.8 175.9,265.2 176.7,261.4 177.4,262.9 178.1,264.4 178.9,268.3 179.6,270.4 180.3,264.4 181.0,271.5 181.8,267.7 182.5,271.3 183.2,272.7 184.0,273.3 184.7,273.2 185.4,274.2 186.2,271.9 186.9,275.4 187.6,277.3 188.4,277.8 189.1,281.6 189.8,279.3 190.6,279.7 191.3,282.5 192.0,280.3 192.7,277.1 193.5,274.7 194.2,281.4 194.9,280.1 195.7,281.4 196.4,280.3 197.1,283.4 197.9,288.2 198.6,286.3 199.3,285.4 200.1,288.4 200.8,289.9 201.5,282.1 202.2,276.3 203.0,274.3 203.7,273.4 204.4,275.3 205.2,274.9 205.9,274.1 206.6,273.8 207.4,277.1 208.1,278.2 208.8,278.4 209.6,279.4 210.3,278.1 211.0,283.0 211.7,274.8 212.5,280.5 213.2,279.3 213.9,283.6 214.7,282.1 215.4,283.5 216.1,284.5 216.9,285.3 217.6,288.7 218.3,285.4 219.1,290.7 219.8,288.0 220.5,288.4 221.2,289.9 222.0,288.9 222.7,290.9 223.4,282.9 224.2,285.9 224.9,290.3 225.6,286.6 226.4,289.1 227.1,293.2 227.8,291.3 228.6,287.0 229.3,289.0 230.0,289.1 230.7,287.8 231.5,287.8 232.2,288.7 232.9,285.5 233.7,288.5 234.4,285.8 235.1,288.0 235.9,287.9 236.6,285.1 237.3,288.1 238.1,287.5 238.8,286.2 239.5,288.1 240.2,286.6 241.0,287.6 241.7,289.6 242.4,290.7 243.2,294.8 243.9,289.3 244.6,295.0 245.4,292.6 246.1,296.0 246.8,297.6 247.6,297.6 248.3,300.5 249.0,300.2 249.7,294.9 250.5,298.6 251.2,304.6 251.9,305.2 252.7,302.6 253.4,299.1 254.1,306.0 254.9,297.4 255.6,302.2 256.3,301.6 257.1,302.2 257.8,298.9 258.5,299.4 259.2,301.3 260.0,297.7 260.7,296.1 261.4,299.6 262.2,300.8 262.9,301.1 263.6,300.0 264.4,303.3 265.1,303.1 265.8,302.2 266.6,306.1 267.3,305.7 268.0,305.7 268.7,301.5 269.5,303.1 270.2,305.8 270.9,306.7 271.7,305.4 272.4,304.8 273.1,305.7 273.9,306.6 274.6,308.4 275.3,306.4 276.1,305.2 276.8,308.1 277.5,304.3 278.2,308.6 279.0,307.7 279.7,307.9 280.4,308.7 281.2,308.1 281.9,305.5 282.6,308.9 283.4,308.9 284.1,311.4 284.8,312.3 285.6,309.5 286.3,312.5 287.0,313.4 287.8,310.7 288.5,313.5 289.2,310.1 289.9,313.1 290.7,316.5 291.4,311.2 292.1,313.2 292.9,312.3 293.6,316.7 294.3,317.4 295.1,315.3 295.8,318.0 296.5,313.7 297.3,320.9 298.0,320.2 298.7,322.7 299.4,315.6 300.2,321.3 300.9,319.9 301.6,315.4 302.4,319.5 303.1,320.9 303.8,322.7 304.6,320.8 305.3,318.6 306.0,320.3 306.8,318.9 307.5,317.4 308.2,316.2 308.9,318.0 309.7,318.2 310.4,321.7 311.1,317.4 311.9,321.9 312.6,319.8 313.3,321.9 314.1,317.9 314.8,318.1 315.5,319.0 316.3,321.0 317.0,319.3 317.7,321.1 318.4,321.2 319.2,323.9 319.9,323.3 320.6,323.0 321.4,326.1 322.1,326.4" fill="none" stroke="#ff0000" stroke-width="1.6" stroke-linejoin="round" clip-path="url(#cl)"/><path d="M59.0 129.5h0M59.7 148.2h0M60.5 160.0h0M61.2 161.3h0M61.9 166.9h0M62.7 169.1h0M63.4 176.1h0M64.1 175.5h0M64.8 175.6h0M65.6 178.7h0M66.3 179.6h0M67.0 179.9h0M67.8 183.0h0M68.5 187.9h0M69.2 190.7h0M70.0 190.9h0M70.7 194.3h0M71.4 194.2h0M72.2 202.7h0M72.9 199.5h0M73.6 203.2h0M74.3 202.3h0M75.1 206.9h0M75.8 207.2h0M76.5 205.3h0M77.3 207.6h0M78.0 202.3h0M78.7 206.7h0M79.5 201.2h0M80.2 205.7h0M80.9 208.2h0M81.7 207.5h0M82.4 206.9h0M83.1 206.3h0M83.8 207.4h0M84.6 210.7h0M85.3 212.3h0M86.0 211.8h0M86.8 211.7h0M87.5 216.9h0M88.2 213.9h0M89.0 215.9h0M89.7 215.7h0M90.4 219.1h0M91.2 219.2h0M91.9 221.1h0M92.6 221.6h0M93.3 220.7h0M94.1 223.8h0M94.8 226.3h0M95.5 223.8h0M96.3 225.2h0M97.0 224.2h0M97.7 226.5h0M98.5 226.7h0M99.2 228.1h0M99.9 228.1h0M100.7 232.2h0M101.4 229.8h0M102.1 231.7h0M102.9 232.6h0M103.6 236.8h0M104.3 236.4h0M105.0 238.6h0M105.8 243.2h0M106.5 243.6h0M107.2 241.5h0M108.0 233.8h0M108.7 236.1h0M109.4 234.7h0M110.2 233.6h0M110.9 234.9h0M111.6 240.3h0M112.4 237.3h0M113.1 237.3h0M113.8 241.0h0M114.5 240.5h0M115.3 241.1h0M116.0 238.9h0M116.7 239.3h0M117.5 239.4h0M118.2 234.3h0M118.9 234.9h0M119.7 240.1h0M120.4 239.2h0M121.1 236.3h0M121.9 235.8h0M122.6 238.4h0M123.3 237.0h0M124.0 238.7h0M124.8 242.0h0M125.5 238.4h0M126.2 240.2h0M127.0 237.5h0M127.7 238.9h0M128.4 241.2h0M129.2 236.3h0M129.9 238.8h0M130.6 239.9h0M131.4 241.3h0M132.1 244.0h0M132.8 242.3h0M133.5 238.8h0M134.3 242.7h0M135.0 243.3h0M135.7 244.8h0M136.5 250.9h0M137.2 244.4h0M137.9 246.0h0M138.7 243.9h0M139.4 247.3h0M140.1 246.9h0M140.9 247.0h0M141.6 246.8h0M142.3 249.2h0M143.0 245.2h0M143.8 246.6h0M144.5 247.1h0M145.2 253.6h0M146.0 251.5h0M146.7 250.9h0M147.4 252.9h0M148.2 258.8h0M148.9 252.9h0M149.6 254.4h0M150.4 253.3h0M151.1 252.9h0M151.8 252.3h0M152.5 253.8h0M153.3 254.3h0M154.0 251.0h0M154.7 261.0h0M155.5 258.2h0M156.2 257.3h0M156.9 257.4h0M157.7 256.8h0M158.4 260.4h0M159.1 258.4h0M159.9 260.6h0M160.6 257.9h0M161.3 262.4h0M162.0 265.4h0M162.8 260.6h0M163.5 262.4h0M164.2 261.5h0M165.0 264.6h0M165.7 265.5h0M166.4 264.0h0M167.2 262.4h0M167.9 264.0h0M168.6 263.2h0M169.4 262.3h0M170.1 265.0h0M170.8 265.6h0M171.5 263.1h0M172.3 264.2h0M173.0 270.2h0M173.7 266.2h0M174.5 265.5h0M175.2 270.8h0M175.9 265.2h0M176.7 261.4h0M177.4 262.9h0M178.1 264.4h0M178.9 268.3h0M179.6 270.4h0M180.3 264.4h0M181.0 271.5h0M181.8 267.7h0M182.5 271.3h0M183.2 272.7h0M184.0 273.3h0M184.7 273.2h0M185.4 274.2h0M186.2 271.9h0M186.9 275.4h0M187.6 277.3h0M188.4 277.8h0M189.1 281.6h0M189.8 279.3h0M190.6 279.7h0M191.3 282.5h0M192.0 280.3h0M192.7 277.1h0M193.5 274.7h0M194.2 281.4h0M194.9 280.1h0M195.7 281.4h0M196.4 280.3h0M197.1 283.4h0M197.9 288.2h0M198.6 286.3h0M199.3 285.4h0M200.1 288.4h0M200.8 289.9h0M201.5 282.1h0M202.2 276.3h0M203.0 274.3h0M203.7 273.4h0M204.4 275.3h0M205.2 274.9h0M205.9 274.1h0M206.6 273.8h0M207.4 277.1h0M208.1 278.2h0M208.8 278.4h0M209.6 279.4h0M210.3 278.1h0M211.0 283.0h0M211.7 274.8h0M212.5 280.5h0M213.2 279.3h0M213.9 283.6h0M214.7 282.1h0M215.4 283.5h0M216.1 284.5h0M216.9 285.3h0M217.6 288.7h0M218.3 285.4h0M219.1 290.7h0M219.8 288.0h0M220.5 288.4h0M221.2 289.9h0M222.0 288.9h0M222.7 290.9h0M223.4 282.9h0M224.2 285.9h0M224.9 290.3h0M225.6 286.6h0M226.4 289.1h0M227.1 293.2h0M227.8 291.3h0M228.6 287.0h0M229.3 289.0h0M230.0 289.1h0M230.7 287.8h0M231.5 287.8h0M232.2 288.7h0M232.9 285.5h0M233.7 288.5h0M234.4 285.8h0M235.1 288.0h0M235.9 287.9h0M236.6 285.1h0M237.3 288.1h0M238.1 287.5h0M238.8 286.2h0M239.5 288.1h0M240.2 286.6h0M241.0 287.6h0M241.7 289.6h0M242.4 290.7h0M243.2 294.8h0M243.9 289.3h0M244.6 295.0h0M245.4 292.6h0M246.1 296.0h0M246.8 297.6h0M247.6 297.6h0M248.3 300.5h0M249.0 300.2h0M249.7 294.9h0M250.5 298.6h0M251.2 304.6h0M251.9 305.2h0M252.7 302.6h0M253.4 299.1h0M254.1 306.0h0M254.9 297.4h0M255.6 302.2h0M256.3 301.6h0M257.1 302.2h0M257.8 298.9h0M258.5 299.4h0M259.2 301.3h0M260.0 297.7h0M260.7 296.1h0M261.4 299.6h0M262.2 300.8h0M262.9 301.1h0M263.6 300.0h0M264.4 303.3h0M265.1 303.1h0M265.8 302.2h0M266.6 306.1h0M267.3 305.7h0M268.0 305.7h0M268.7 301.5h0M269.5 303.1h0M270.2 305.8h0M270.9 306.7h0M271.7 305.4h0M272.4 304.8h0M273.1 305.7h0M273.9 306.6h0M274.6 308.4h0M275.3 306.4h0M276.1 305.2h0M276.8 308.1h0M277.5 304.3h0M278.2 308.6h0M279.0 307.7h0M279.7 307.9h0M280.4 308.7h0M281.2 308.1h0M281.9 305.5h0M282.6 308.9h0M283.4 308.9h0M284.1 311.4h0M284.8 312.3h0M285.6 309.5h0M286.3 312.5h0M287.0 313.4h0M287.8 310.7h0M288.5 313.5h0M289.2 310.1h0M289.9 313.1h0M290.7 316.5h0M291.4 311.2h0M292.1 313.2h0M292.9 312.3h0M293.6 316.7h0M294.3 317.4h0M295.1 315.3h0M295.8 318.0h0M296.5 313.7h0M297.3 320.9h0M298.0 320.2h0M298.7 322.7h0M299.4 315.6h0M300.2 321.3h0M300.9 319.9h0M301.6 315.4h0M302.4 319.5h0M303.1 320.9h0M303.8 322.7h0M304.6 320.8h0M305.3 318.6h0M306.0 320.3h0M306.8 318.9h0M307.5 317.4h0M308.2 316.2h0M308.9 318.0h0M309.7 318.2h0M310.4 321.7h0M311.1 317.4h0M311.9 321.9h0M312.6 319.8h0M313.3 321.9h0M314.1 317.9h0M314.8 318.1h0M315.5 319.0h0M316.3 321.0h0M317.0 319.3h0M317.7 321.1h0M318.4 321.2h0M319.2 323.9h0M319.9 323.3h0M320.6 323.0h0M321.4 326.1h0M322.1 326.4h0" stroke="#ff0000" stroke-width="4.4" stroke-linecap="round" clip-path="url(#cld)"/></g><line x1="59.0" y1="215.60" x2="322.1" y2="215.60" stroke="#000" stroke-width="2" stroke-dasharray="9 8.55" stroke-dashoffset="3.0"/><line x1="69.40" y1="333.00" x2="134.70" y2="333.00" stroke="#00ff00" stroke-width="2"/><circle cx="102.00" cy="333.00" r="2.1" fill="#00ff00"/><text x="139.50" y="340.10" font-size="17.4" stroke="#262626" stroke-width="0.3">BDS-3</text><line x1="69.40" y1="356.50" x2="134.70" y2="356.50" stroke="#0000ff" stroke-width="2"/><circle cx="102.00" cy="356.50" r="2.1" fill="#0000ff"/><text x="139.50" y="363.60" font-size="17.4" stroke="#262626" stroke-width="0.3">BDS-3+QZSS</text><line x1="69.40" y1="380.00" x2="134.70" y2="380.00" stroke="#00ffff" stroke-width="2"/><circle cx="102.00" cy="380.00" r="2.1" fill="#00ffff"/><text x="139.50" y="387.10" font-size="17.4" stroke="#262626" stroke-width="0.3">BDS-3+2</text><line x1="69.40" y1="403.50" x2="134.70" y2="403.50" stroke="#ff0000" stroke-width="2"/><circle cx="102.00" cy="403.50" r="2.1" fill="#ff0000"/><text x="139.50" y="410.60" font-size="17.4" stroke="#262626" stroke-width="0.3">BDS-3+2+QZSS</text>
<rect x="408.1" y="5.2" width="263.1" height="420.0" fill="none" stroke="#262626" stroke-width="2.1"/><path d="M408.10 425.2v-4.2M408.10 5.2v4.2M408.1 425.20h4.2M671.2 425.20h-4.2M473.88 425.2v-4.2M473.88 5.2v4.2M408.1 321.20h4.2M671.2 321.20h-4.2M539.65 425.2v-4.2M539.65 5.2v4.2M408.1 215.60h4.2M671.2 215.60h-4.2M605.43 425.2v-4.2M605.43 5.2v4.2M408.1 111.20h4.2M671.2 111.20h-4.2M671.20 425.2v-4.2M671.20 5.2v4.2M408.1 5.20h4.2M671.2 5.20h-4.2" stroke="#262626" stroke-width="2" fill="none"/><text x="408.10" y="447" font-size="17" text-anchor="middle">0</text><text x="473.88" y="447" font-size="17" text-anchor="middle">30</text><text x="539.65" y="447" font-size="17" text-anchor="middle">60</text><text x="605.43" y="447" font-size="17" text-anchor="middle">90</text><polygon points="663.36,447.00 663.36,434.83 662.17,434.83 661.87,435.58 661.19,436.32 660.25,437.06 658.88,437.74 658.88,439.15 660.00,438.67 661.02,438.07 661.87,437.39 661.87,447.00" fill="#262626"/><text x="666.47" y="447" font-size="17">20</text><text x="403.40" y="432.60" font-size="17" text-anchor="end">0</text><text x="403.40" y="327.60" font-size="17" text-anchor="end">0.25</text><text x="403.40" y="222.60" font-size="17" text-anchor="end">0.5</text><text x="403.40" y="117.60" font-size="17" text-anchor="end">0.75</text><polygon points="400.69,12.60 400.69,0.43 399.50,0.43 399.19,1.18 398.51,1.92 397.58,2.66 396.20,3.34 396.20,4.75 397.32,4.27 398.34,3.68 399.19,3.00 399.19,12.60" fill="#262626"/><text x="539.65" y="468.5" font-size="18.2" text-anchor="middle">Time [min]</text><text transform="translate(362.6 216.00) rotate(-90)" font-size="18.45" text-anchor="middle">Vertical Error [m]</text><g><polyline points="408.1,-199.4 408.8,-195.0 409.6,-185.3 410.3,-183.5 411.0,-178.8 411.8,-176.8 412.5,-173.1 413.2,-168.5 413.9,-164.3 414.7,-155.7 415.4,-154.0 416.1,-149.5 416.9,-147.3 417.6,-144.5 418.3,-140.7 419.1,-135.9 419.8,-128.1 420.5,-124.7 421.3,-121.2 422.0,-116.2 422.7,-114.5 423.4,-103.7 424.2,-104.2 424.9,-96.7 425.6,-87.7 426.4,-95.1 427.1,-89.4 427.8,-83.5 428.6,-76.9 429.3,-75.9 430.0,-67.7 430.8,-62.6 431.5,-57.9 432.2,-59.8 432.9,-48.8 433.7,-42.5 434.4,-40.5 435.1,-38.0 435.9,-32.4 436.6,-31.9 437.3,-20.3 438.1,-13.2 438.8,-10.4 439.5,-14.0 440.3,-3.3 441.0,1.7 441.7,5.5 442.4,13.5 443.2,11.6 443.9,18.3 444.6,24.9 445.4,29.7 446.1,31.9 446.8,38.1 447.6,41.5 448.3,42.7 449.0,53.0 449.8,53.8 450.5,56.0 451.2,65.4 452.0,72.1 452.7,72.7 453.4,75.5 454.1,76.2 454.9,72.6 455.6,82.6 456.3,84.1 457.1,83.6 457.8,94.2 458.5,99.7 459.3,109.6 460.0,112.8 460.7,118.6 461.5,123.7 462.2,125.4 462.9,128.9 463.6,137.2 464.4,139.4 465.1,143.4 465.8,145.8 466.6,147.3 467.3,151.8 468.0,152.9 468.8,153.3 469.5,153.0 470.2,154.1 471.0,159.5 471.7,165.5 472.4,170.9 473.1,172.0 473.9,179.0 474.6,184.7 475.3,191.9 476.1,190.2 476.8,195.5 477.5,195.3 478.3,194.5 479.0,194.8 479.7,203.2 480.5,207.1 481.2,213.5 481.9,209.1 482.6,214.2 483.4,214.3 484.1,210.7 484.8,218.7 485.6,219.4 486.3,219.6 487.0,228.8 487.8,225.5 488.5,231.2 489.2,234.4 490.0,238.0 490.7,242.9 491.4,245.1 492.1,242.3 492.9,240.7 493.6,249.6 494.3,247.5 495.1,245.2 495.8,248.3 496.5,245.7 497.3,249.6 498.0,252.1 498.7,246.2 499.5,253.2 500.2,254.1 500.9,252.9 501.6,255.3 502.4,255.4 503.1,255.9 503.8,253.4 504.6,262.3 505.3,258.7 506.0,262.4 506.8,263.0 507.5,265.2 508.2,266.2 509.0,263.4 509.7,267.3 510.4,266.0 511.1,264.6 511.9,269.5 512.6,270.1 513.3,266.4 514.1,268.8 514.8,267.8 515.5,267.7 516.3,269.0 517.0,273.5 517.7,270.0 518.5,270.4 519.2,274.6 519.9,272.1 520.6,276.8 521.4,272.2 522.1,274.1 522.8,274.2 523.6,271.5 524.3,278.5 525.0,279.5 525.8,280.0 526.5,276.9 527.2,278.6 528.0,276.7 528.7,277.0 529.4,275.6 530.1,277.5 530.9,276.0 531.6,280.0 532.3,277.1 533.1,276.0 533.8,277.7 534.5,277.4 535.3,273.4 536.0,274.8 536.7,276.5 537.5,279.2 538.2,280.1 538.9,280.7 539.7,278.2 540.4,276.1 541.1,274.3 541.8,277.6 542.6,276.8 543.3,280.9 544.0,283.6 544.8,287.1 545.5,281.7 546.2,287.3 547.0,285.0 547.7,294.4 548.4,291.9 549.2,296.6 549.9,296.3 550.6,301.2 551.3,297.5 552.1,297.2 552.8,293.9 553.5,294.3 554.3,289.5 555.0,289.1 555.7,292.6 556.5,284.6 557.2,289.0 557.9,291.3 558.7,290.9 559.4,289.6 560.1,288.1 560.8,291.4 561.6,287.9 562.3,288.3 563.0,283.6 563.8,287.7 564.5,285.9 565.2,287.3 566.0,282.5 566.7,285.2 567.4,287.7 568.2,285.0 568.9,289.3 569.6,292.2 570.3,286.3 571.1,286.3 571.8,283.3 572.5,282.6 573.3,280.2 574.0,284.2 574.7,279.5 575.5,280.6 576.2,279.8 576.9,277.9 577.7,278.3 578.4,278.6 579.1,280.3 579.8,277.0 580.6,279.7 581.3,276.7 582.0,275.8 582.8,275.7 583.5,272.9 584.2,274.9 585.0,272.9 585.7,274.5 586.4,279.9 587.2,275.5 587.9,276.3 588.6,278.9 589.3,279.8 590.1,278.7 590.8,282.2 591.5,281.9 592.3,283.2 593.0,280.1 593.7,287.6 594.5,284.5 595.2,283.1 595.9,289.1 596.7,287.0 597.4,286.0 598.1,285.5 598.8,288.2 599.6,287.0 600.3,287.3 601.0,290.5 601.8,291.5 602.5,291.4 603.2,295.0 604.0,296.4 604.7,296.9 605.4,294.2 606.2,295.3 606.9,294.4 607.6,298.5 608.3,298.0 609.1,301.6 609.8,300.1 610.5,300.9 611.3,298.1 612.0,298.0 612.7,297.6 613.5,289.8 614.2,292.1 614.9,294.0 615.7,293.7 616.4,294.6 617.1,293.3 617.8,296.6 618.6,294.7 619.3,295.8 620.0,295.4 620.8,298.5 621.5,299.0 622.2,297.3 623.0,299.2 623.7,294.8 624.4,303.0 625.2,297.0 625.9,300.5 626.6,296.1 627.4,299.6 628.1,299.3 628.8,305.3 629.5,298.5 630.3,295.8 631.0,302.7 631.7,301.5 632.5,304.2 633.2,302.5 633.9,296.8 634.7,300.7 635.4,301.6 636.1,303.1 636.9,301.6 637.6,301.2 638.3,300.9 639.0,295.4 639.8,297.4 640.5,303.9 641.2,305.5 642.0,304.5 642.7,306.4 643.4,307.7 644.2,309.0 644.9,306.0 645.6,305.7 646.4,311.2 647.1,309.1 647.8,308.9 648.5,312.1 649.3,310.4 650.0,311.3 650.7,312.9 651.5,316.9 652.2,317.6 652.9,319.8 653.7,318.1 654.4,320.0 655.1,320.7 655.9,320.4 656.6,323.0 657.3,317.5 658.0,316.6 658.8,320.9 659.5,316.5 660.2,314.1 661.0,316.4 661.7,314.8 662.4,317.4 663.2,315.1 663.9,311.5 664.6,316.6 665.4,311.6 666.1,319.4 666.8,316.3 667.5,310.7 668.3,320.1 669.0,312.4 669.7,307.9 670.5,317.0 671.2,310.7" fill="none" stroke="#00ff00" stroke-width="1.6" stroke-linejoin="round" clip-path="url(#cr)"/><path d="M441.7 5.5h0M442.4 13.5h0M443.2 11.6h0M443.9 18.3h0M444.6 24.9h0M445.4 29.7h0M446.1 31.9h0M446.8 38.1h0M447.6 41.5h0M448.3 42.7h0M449.0 53.0h0M449.8 53.8h0M450.5 56.0h0M451.2 65.4h0M452.0 72.1h0M452.7 72.7h0M453.4 75.5h0M454.1 76.2h0M454.9 72.6h0M455.6 82.6h0M456.3 84.1h0M457.1 83.6h0M457.8 94.2h0M458.5 99.7h0M459.3 109.6h0M460.0 112.8h0M460.7 118.6h0M461.5 123.7h0M462.2 125.4h0M462.9 128.9h0M463.6 137.2h0M464.4 139.4h0M465.1 143.4h0M465.8 145.8h0M466.6 147.3h0M467.3 151.8h0M468.0 152.9h0M468.8 153.3h0M469.5 153.0h0M470.2 154.1h0M471.0 159.5h0M471.7 165.5h0M472.4 170.9h0M473.1 172.0h0M473.9 179.0h0M474.6 184.7h0M475.3 191.9h0M476.1 190.2h0M476.8 195.5h0M477.5 195.3h0M478.3 194.5h0M479.0 194.8h0M479.7 203.2h0M480.5 207.1h0M481.2 213.5h0M481.9 209.1h0M482.6 214.2h0M483.4 214.3h0M484.1 210.7h0M484.8 218.7h0M485.6 219.4h0M486.3 219.6h0M487.0 228.8h0M487.8 225.5h0M488.5 231.2h0M489.2 234.4h0M490.0 238.0h0M490.7 242.9h0M491.4 245.1h0M492.1 242.3h0M492.9 240.7h0M493.6 249.6h0M494.3 247.5h0M495.1 245.2h0M495.8 248.3h0M496.5 245.7h0M497.3 249.6h0M498.0 252.1h0M498.7 246.2h0M499.5 253.2h0M500.2 254.1h0M500.9 252.9h0M501.6 255.3h0M502.4 255.4h0M503.1 255.9h0M503.8 253.4h0M504.6 262.3h0M505.3 258.7h0M506.0 262.4h0M506.8 263.0h0M507.5 265.2h0M508.2 266.2h0M509.0 263.4h0M509.7 267.3h0M510.4 266.0h0M511.1 264.6h0M511.9 269.5h0M512.6 270.1h0M513.3 266.4h0M514.1 268.8h0M514.8 267.8h0M515.5 267.7h0M516.3 269.0h0M517.0 273.5h0M517.7 270.0h0M518.5 270.4h0M519.2 274.6h0M519.9 272.1h0M520.6 276.8h0M521.4 272.2h0M522.1 274.1h0M522.8 274.2h0M523.6 271.5h0M524.3 278.5h0M525.0 279.5h0M525.8 280.0h0M526.5 276.9h0M527.2 278.6h0M528.0 276.7h0M528.7 277.0h0M529.4 275.6h0M530.1 277.5h0M530.9 276.0h0M531.6 280.0h0M532.3 277.1h0M533.1 276.0h0M533.8 277.7h0M534.5 277.4h0M535.3 273.4h0M536.0 274.8h0M536.7 276.5h0M537.5 279.2h0M538.2 280.1h0M538.9 280.7h0M539.7 278.2h0M540.4 276.1h0M541.1 274.3h0M541.8 277.6h0M542.6 276.8h0M543.3 280.9h0M544.0 283.6h0M544.8 287.1h0M545.5 281.7h0M546.2 287.3h0M547.0 285.0h0M547.7 294.4h0M548.4 291.9h0M549.2 296.6h0M549.9 296.3h0M550.6 301.2h0M551.3 297.5h0M552.1 297.2h0M552.8 293.9h0M553.5 294.3h0M554.3 289.5h0M555.0 289.1h0M555.7 292.6h0M556.5 284.6h0M557.2 289.0h0M557.9 291.3h0M558.7 290.9h0M559.4 289.6h0M560.1 288.1h0M560.8 291.4h0M561.6 287.9h0M562.3 288.3h0M563.0 283.6h0M563.8 287.7h0M564.5 285.9h0M565.2 287.3h0M566.0 282.5h0M566.7 285.2h0M567.4 287.7h0M568.2 285.0h0M568.9 289.3h0M569.6 292.2h0M570.3 286.3h0M571.1 286.3h0M571.8 283.3h0M572.5 282.6h0M573.3 280.2h0M574.0 284.2h0M574.7 279.5h0M575.5 280.6h0M576.2 279.8h0M576.9 277.9h0M577.7 278.3h0M578.4 278.6h0M579.1 280.3h0M579.8 277.0h0M580.6 279.7h0M581.3 276.7h0M582.0 275.8h0M582.8 275.7h0M583.5 272.9h0M584.2 274.9h0M585.0 272.9h0M585.7 274.5h0M586.4 279.9h0M587.2 275.5h0M587.9 276.3h0M588.6 278.9h0M589.3 279.8h0M590.1 278.7h0M590.8 282.2h0M591.5 281.9h0M592.3 283.2h0M593.0 280.1h0M593.7 287.6h0M594.5 284.5h0M595.2 283.1h0M595.9 289.1h0M596.7 287.0h0M597.4 286.0h0M598.1 285.5h0M598.8 288.2h0M599.6 287.0h0M600.3 287.3h0M601.0 290.5h0M601.8 291.5h0M602.5 291.4h0M603.2 295.0h0M604.0 296.4h0M604.7 296.9h0M605.4 294.2h0M606.2 295.3h0M606.9 294.4h0M607.6 298.5h0M608.3 298.0h0M609.1 301.6h0M609.8 300.1h0M610.5 300.9h0M611.3 298.1h0M612.0 298.0h0M612.7 297.6h0M613.5 289.8h0M614.2 292.1h0M614.9 294.0h0M615.7 293.7h0M616.4 294.6h0M617.1 293.3h0M617.8 296.6h0M618.6 294.7h0M619.3 295.8h0M620.0 295.4h0M620.8 298.5h0M621.5 299.0h0M622.2 297.3h0M623.0 299.2h0M623.7 294.8h0M624.4 303.0h0M625.2 297.0h0M625.9 300.5h0M626.6 296.1h0M627.4 299.6h0M628.1 299.3h0M628.8 305.3h0M629.5 298.5h0M630.3 295.8h0M631.0 302.7h0M631.7 301.5h0M632.5 304.2h0M633.2 302.5h0M633.9 296.8h0M634.7 300.7h0M635.4 301.6h0M636.1 303.1h0M636.9 301.6h0M637.6 301.2h0M638.3 300.9h0M639.0 295.4h0M639.8 297.4h0M640.5 303.9h0M641.2 305.5h0M642.0 304.5h0M642.7 306.4h0M643.4 307.7h0M644.2 309.0h0M644.9 306.0h0M645.6 305.7h0M646.4 311.2h0M647.1 309.1h0M647.8 308.9h0M648.5 312.1h0M649.3 310.4h0M650.0 311.3h0M650.7 312.9h0M651.5 316.9h0M652.2 317.6h0M652.9 319.8h0M653.7 318.1h0M654.4 320.0h0M655.1 320.7h0M655.9 320.4h0M656.6 323.0h0M657.3 317.5h0M658.0 316.6h0M658.8 320.9h0M659.5 316.5h0M660.2 314.1h0M661.0 316.4h0M661.7 314.8h0M662.4 317.4h0M663.2 315.1h0M663.9 311.5h0M664.6 316.6h0M665.4 311.6h0M666.1 319.4h0M666.8 316.3h0M667.5 310.7h0M668.3 320.1h0M669.0 312.4h0M669.7 307.9h0M670.5 317.0h0M671.2 310.7h0" stroke="#00ff00" stroke-width="4.4" stroke-linecap="round" clip-path="url(#crd)"/><polyline points="408.1,-199.4 408.8,-195.1 409.6,-193.4 410.3,-182.2 411.0,-183.2 411.8,-181.5 412.5,-177.1 413.2,-173.0 413.9,-166.3 414.7,-159.1 415.4,-155.1 416.1,-150.0 416.9,-150.7 417.6,-146.0 418.3,-134.5 419.1,-131.7 419.8,-124.5 420.5,-122.5 421.3,-123.9 422.0,-115.0 422.7,-112.6 423.4,-109.4 424.2,-107.4 424.9,-100.9 425.6,-96.7 426.4,-89.6 427.1,-87.0 427.8,-79.6 428.6,-81.2 429.3,-74.7 430.0,-70.8 430.8,-70.2 431.5,-67.1 432.2,-57.5 432.9,-53.8 433.7,-50.3 434.4,-44.0 435.1,-42.0 435.9,-35.6 436.6,-33.1 437.3,-26.9 438.1,-21.7 438.8,-21.5 439.5,-15.8 440.3,-16.8 441.0,-11.5 441.7,-10.1 442.4,-3.1 443.2,1.1 443.9,4.6 444.6,9.0 445.4,19.7 446.1,26.4 446.8,26.3 447.6,36.4 448.3,34.1 449.0,41.3 449.8,47.4 450.5,52.8 451.2,54.3 452.0,58.5 452.7,63.4 453.4,64.0 454.1,66.7 454.9,72.0 455.6,78.5 456.3,83.5 457.1,90.6 457.8,97.2 458.5,102.4 459.3,107.9 460.0,109.7 460.7,116.9 461.5,118.3 462.2,121.5 462.9,125.6 463.6,130.1 464.4,136.5 465.1,136.7 465.8,139.9 466.6,144.2 467.3,145.9 468.0,155.1 468.8,158.7 469.5,160.4 470.2,160.5 471.0,164.6 471.7,167.7 472.4,168.7 473.1,168.8 473.9,167.2 474.6,175.1 475.3,174.1 476.1,175.2 476.8,181.3 477.5,182.0 478.3,179.6 479.0,184.3 479.7,185.7 480.5,190.9 481.2,192.9 481.9,203.1 482.6,206.6 483.4,213.5 484.1,210.9 484.8,209.0 485.6,214.1 486.3,218.5 487.0,221.6 487.8,225.5 488.5,224.3 489.2,222.9 490.0,227.6 490.7,226.6 491.4,227.3 492.1,229.2 492.9,234.0 493.6,230.8 494.3,232.3 495.1,236.0 495.8,236.7 496.5,235.8 497.3,236.5 498.0,240.5 498.7,243.7 499.5,243.9 500.2,245.3 500.9,247.4 501.6,240.9 502.4,242.9 503.1,245.4 503.8,244.8 504.6,245.8 505.3,249.2 506.0,246.8 506.8,249.4 507.5,246.2 508.2,249.1 509.0,255.5 509.7,252.6 510.4,255.7 511.1,257.0 511.9,254.2 512.6,256.8 513.3,256.8 514.1,259.0 514.8,255.9 515.5,253.9 516.3,254.3 517.0,255.4 517.7,258.0 518.5,258.3 519.2,259.6 519.9,261.0 520.6,264.9 521.4,262.0 522.1,266.4 522.8,259.2 523.6,259.7 524.3,262.1 525.0,260.3 525.8,256.0 526.5,256.2 527.2,253.0 528.0,260.1 528.7,263.6 529.4,265.0 530.1,270.3 530.9,270.7 531.6,273.1 532.3,275.3 533.1,276.2 533.8,277.5 534.5,276.7 535.3,275.1 536.0,274.3 536.7,268.8 537.5,264.0 538.2,264.8 538.9,265.8 539.7,265.1 540.4,266.0 541.1,266.2 541.8,264.2 542.6,264.8 543.3,263.1 544.0,267.6 544.8,265.2 545.5,264.1 546.2,265.8 547.0,269.2 547.7,275.6 548.4,273.9 549.2,266.5 549.9,268.7 550.6,268.7 551.3,268.8 552.1,267.3 552.8,266.2 553.5,269.9 554.3,269.5 555.0,268.3 555.7,274.5 556.5,273.4 557.2,275.9 557.9,273.8 558.7,266.7 559.4,267.0 560.1,265.2 560.8,260.9 561.6,258.9 562.3,265.4 563.0,269.2 563.8,270.2 564.5,268.4 565.2,278.3 566.0,279.5 566.7,278.3 567.4,278.7 568.2,275.9 568.9,278.1 569.6,275.6 570.3,275.2 571.1,278.1 571.8,278.8 572.5,276.7 573.3,281.7 574.0,280.5 574.7,277.0 575.5,278.7 576.2,279.8 576.9,276.2 577.7,279.6 578.4,279.7 579.1,274.2 579.8,274.0 580.6,275.3 581.3,268.2 582.0,266.0 582.8,266.3 583.5,262.7 584.2,260.7 585.0,262.3 585.7,260.0 586.4,264.8 587.2,268.2 587.9,267.5 588.6,270.2 589.3,269.5 590.1,268.6 590.8,268.3 591.5,271.1 592.3,269.9 593.0,270.9 593.7,272.4 594.5,273.0 595.2,269.7 595.9,271.7 596.7,274.6 597.4,276.9 598.1,279.5 598.8,271.2 599.6,268.2 600.3,265.7 601.0,266.6 601.8,270.4 602.5,268.2 603.2,273.2 604.0,272.5 604.7,275.8 605.4,274.0 606.2,272.0 606.9,271.2 607.6,272.8 608.3,274.2 609.1,269.4 609.8,271.3 610.5,273.4 611.3,274.6 612.0,276.5 612.7,274.5 613.5,276.0 614.2,272.7 614.9,278.5 615.7,281.6 616.4,275.2 617.1,278.4 617.8,281.0 618.6,278.0 619.3,273.6 620.0,280.7 620.8,274.6 621.5,282.1 622.2,278.2 623.0,278.7 623.7,281.5 624.4,282.7 625.2,285.5 625.9,286.2 626.6,285.4 627.4,288.6 628.1,287.8 628.8,287.5 629.5,287.3 630.3,286.1 631.0,284.6 631.7,285.1 632.5,284.0 633.2,283.5 633.9,286.5 634.7,283.9 635.4,285.8 636.1,286.7 636.9,282.2 637.6,284.0 638.3,287.9 639.0,281.0 639.8,284.9 640.5,279.3 641.2,282.9 642.0,280.0 642.7,281.9 643.4,283.5 644.2,284.9 644.9,290.4 645.6,291.2 646.4,292.1 647.1,291.0 647.8,294.5 648.5,292.9 649.3,291.4 650.0,288.1 650.7,292.3 651.5,292.6 652.2,291.7 652.9,293.6 653.7,294.5 654.4,292.8 655.1,295.7 655.9,295.9 656.6,295.8 657.3,294.4 658.0,294.2 658.8,296.2 659.5,299.8 660.2,302.6 661.0,297.3 661.7,296.4 662.4,298.3 663.2,297.1 663.9,298.2 664.6,299.9 665.4,296.4 666.1,299.6 666.8,299.3 667.5,299.9 668.3,299.0 669.0,295.3 669.7,297.7 670.5,291.2 671.2,293.5" fill="none" stroke="#0000ff" stroke-width="1.6" stroke-linejoin="round" clip-path="url(#cr)"/><path d="M444.6 9.0h0M445.4 19.7h0M446.1 26.4h0M446.8 26.3h0M447.6 36.4h0M448.3 34.1h0M449.0 41.3h0M449.8 47.4h0M450.5 52.8h0M451.2 54.3h0M452.0 58.5h0M452.7 63.4h0M453.4 64.0h0M454.1 66.7h0M454.9 72.0h0M455.6 78.5h0M456.3 83.5h0M457.1 90.6h0M457.8 97.2h0M458.5 102.4h0M459.3 107.9h0M460.0 109.7h0M460.7 116.9h0M461.5 118.3h0M462.2 121.5h0M462.9 125.6h0M463.6 130.1h0M464.4 136.5h0M465.1 136.7h0M465.8 139.9h0M466.6 144.2h0M467.3 145.9h0M468.0 155.1h0M468.8 158.7h0M469.5 160.4h0M470.2 160.5h0M471.0 164.6h0M471.7 167.7h0M472.4 168.7h0M473.1 168.8h0M473.9 167.2h0M474.6 175.1h0M475.3 174.1h0M476.1 175.2h0M476.8 181.3h0M477.5 182.0h0M478.3 179.6h0M479.0 184.3h0M479.7 185.7h0M480.5 190.9h0M481.2 192.9h0M481.9 203.1h0M482.6 206.6h0M483.4 213.5h0M484.1 210.9h0M484.8 209.0h0M485.6 214.1h0M486.3 218.5h0M487.0 221.6h0M487.8 225.5h0M488.5 224.3h0M489.2 222.9h0M490.0 227.6h0M490.7 226.6h0M491.4 227.3h0M492.1 229.2h0M492.9 234.0h0M493.6 230.8h0M494.3 232.3h0M495.1 236.0h0M495.8 236.7h0M496.5 235.8h0M497.3 236.5h0M498.0 240.5h0M498.7 243.7h0M499.5 243.9h0M500.2 245.3h0M500.9 247.4h0M501.6 240.9h0M502.4 242.9h0M503.1 245.4h0M503.8 244.8h0M504.6 245.8h0M505.3 249.2h0M506.0 246.8h0M506.8 249.4h0M507.5 246.2h0M508.2 249.1h0M509.0 255.5h0M509.7 252.6h0M510.4 255.7h0M511.1 257.0h0M511.9 254.2h0M512.6 256.8h0M513.3 256.8h0M514.1 259.0h0M514.8 255.9h0M515.5 253.9h0M516.3 254.3h0M517.0 255.4h0M517.7 258.0h0M518.5 258.3h0M519.2 259.6h0M519.9 261.0h0M520.6 264.9h0M521.4 262.0h0M522.1 266.4h0M522.8 259.2h0M523.6 259.7h0M524.3 262.1h0M525.0 260.3h0M525.8 256.0h0M526.5 256.2h0M527.2 253.0h0M528.0 260.1h0M528.7 263.6h0M529.4 265.0h0M530.1 270.3h0M530.9 270.7h0M531.6 273.1h0M532.3 275.3h0M533.1 276.2h0M533.8 277.5h0M534.5 276.7h0M535.3 275.1h0M536.0 274.3h0M536.7 268.8h0M537.5 264.0h0M538.2 264.8h0M538.9 265.8h0M539.7 265.1h0M540.4 266.0h0M541.1 266.2h0M541.8 264.2h0M542.6 264.8h0M543.3 263.1h0M544.0 267.6h0M544.8 265.2h0M545.5 264.1h0M546.2 265.8h0M547.0 269.2h0M547.7 275.6h0M548.4 273.9h0M549.2 266.5h0M549.9 268.7h0M550.6 268.7h0M551.3 268.8h0M552.1 267.3h0M552.8 266.2h0M553.5 269.9h0M554.3 269.5h0M555.0 268.3h0M555.7 274.5h0M556.5 273.4h0M557.2 275.9h0M557.9 273.8h0M558.7 266.7h0M559.4 267.0h0M560.1 265.2h0M560.8 260.9h0M561.6 258.9h0M562.3 265.4h0M563.0 269.2h0M563.8 270.2h0M564.5 268.4h0M565.2 278.3h0M566.0 279.5h0M566.7 278.3h0M567.4 278.7h0M568.2 275.9h0M568.9 278.1h0M569.6 275.6h0M570.3 275.2h0M571.1 278.1h0M571.8 278.8h0M572.5 276.7h0M573.3 281.7h0M574.0 280.5h0M574.7 277.0h0M575.5 278.7h0M576.2 279.8h0M576.9 276.2h0M577.7 279.6h0M578.4 279.7h0M579.1 274.2h0M579.8 274.0h0M580.6 275.3h0M581.3 268.2h0M582.0 266.0h0M582.8 266.3h0M583.5 262.7h0M584.2 260.7h0M585.0 262.3h0M585.7 260.0h0M586.4 264.8h0M587.2 268.2h0M587.9 267.5h0M588.6 270.2h0M589.3 269.5h0M590.1 268.6h0M590.8 268.3h0M591.5 271.1h0M592.3 269.9h0M593.0 270.9h0M593.7 272.4h0M594.5 273.0h0M595.2 269.7h0M595.9 271.7h0M596.7 274.6h0M597.4 276.9h0M598.1 279.5h0M598.8 271.2h0M599.6 268.2h0M600.3 265.7h0M601.0 266.6h0M601.8 270.4h0M602.5 268.2h0M603.2 273.2h0M604.0 272.5h0M604.7 275.8h0M605.4 274.0h0M606.2 272.0h0M606.9 271.2h0M607.6 272.8h0M608.3 274.2h0M609.1 269.4h0M609.8 271.3h0M610.5 273.4h0M611.3 274.6h0M612.0 276.5h0M612.7 274.5h0M613.5 276.0h0M614.2 272.7h0M614.9 278.5h0M615.7 281.6h0M616.4 275.2h0M617.1 278.4h0M617.8 281.0h0M618.6 278.0h0M619.3 273.6h0M620.0 280.7h0M620.8 274.6h0M621.5 282.1h0M622.2 278.2h0M623.0 278.7h0M623.7 281.5h0M624.4 282.7h0M625.2 285.5h0M625.9 286.2h0M626.6 285.4h0M627.4 288.6h0M628.1 287.8h0M628.8 287.5h0M629.5 287.3h0M630.3 286.1h0M631.0 284.6h0M631.7 285.1h0M632.5 284.0h0M633.2 283.5h0M633.9 286.5h0M634.7 283.9h0M635.4 285.8h0M636.1 286.7h0M636.9 282.2h0M637.6 284.0h0M638.3 287.9h0M639.0 281.0h0M639.8 284.9h0M640.5 279.3h0M641.2 282.9h0M642.0 280.0h0M642.7 281.9h0M643.4 283.5h0M644.2 284.9h0M644.9 290.4h0M645.6 291.2h0M646.4 292.1h0M647.1 291.0h0M647.8 294.5h0M648.5 292.9h0M649.3 291.4h0M650.0 288.1h0M650.7 292.3h0M651.5 292.6h0M652.2 291.7h0M652.9 293.6h0M653.7 294.5h0M654.4 292.8h0M655.1 295.7h0M655.9 295.9h0M656.6 295.8h0M657.3 294.4h0M658.0 294.2h0M658.8 296.2h0M659.5 299.8h0M660.2 302.6h0M661.0 297.3h0M661.7 296.4h0M662.4 298.3h0M663.2 297.1h0M663.9 298.2h0M664.6 299.9h0M665.4 296.4h0M666.1 299.6h0M666.8 299.3h0M667.5 299.9h0M668.3 299.0h0M669.0 295.3h0M669.7 297.7h0M670.5 291.2h0M671.2 293.5h0" stroke="#0000ff" stroke-width="4.4" stroke-linecap="round" clip-path="url(#crd)"/><polyline points="408.1,-199.3 408.8,-194.4 409.6,-192.9 410.3,-186.4 411.0,-176.7 411.8,-178.5 412.5,-167.2 413.2,-161.4 413.9,-160.2 414.7,-156.6 415.4,-149.3 416.1,-143.0 416.9,-136.0 417.6,-133.9 418.3,-127.0 419.1,-126.1 419.8,-121.5 420.5,-117.8 421.3,-111.4 422.0,-104.9 422.7,-98.8 423.4,-97.2 424.2,-86.8 424.9,-83.2 425.6,-79.4 426.4,-75.1 427.1,-64.5 427.8,-64.3 428.6,-62.2 429.3,-57.7 430.0,-46.5 430.8,-46.9 431.5,-37.1 432.2,-30.8 432.9,-34.2 433.7,-22.8 434.4,-23.7 435.1,-22.9 435.9,-17.8 436.6,-11.1 437.3,-7.4 438.1,-3.5 438.8,-2.7 439.5,5.5 440.3,11.4 441.0,21.6 441.7,29.1 442.4,40.6 443.2,49.0 443.9,52.3 444.6,59.5 445.4,65.5 446.1,72.4 446.8,80.1 447.6,80.7 448.3,90.6 449.0,96.4 449.8,94.7 450.5,100.4 451.2,111.5 452.0,109.5 452.7,113.9 453.4,117.6 454.1,117.7 454.9,120.2 455.6,124.6 456.3,129.4 457.1,133.7 457.8,139.9 458.5,147.0 459.3,147.5 460.0,154.2 460.7,156.0 461.5,159.8 462.2,162.2 462.9,162.8 463.6,167.5 464.4,170.8 465.1,171.1 465.8,178.2 466.6,180.1 467.3,181.7 468.0,181.8 468.8,179.4 469.5,195.2 470.2,196.8 471.0,192.6 471.7,200.2 472.4,198.5 473.1,203.3 473.9,202.4 474.6,206.0 475.3,204.5 476.1,205.5 476.8,206.4 477.5,210.6 478.3,207.0 479.0,216.2 479.7,218.2 480.5,218.1 481.2,222.2 481.9,224.0 482.6,228.0 483.4,232.7 484.1,231.5 484.8,237.6 485.6,241.4 486.3,243.2 487.0,246.9 487.8,244.0 488.5,246.9 489.2,252.0 490.0,247.3 490.7,247.7 491.4,248.6 492.1,250.6 492.9,247.8 493.6,249.2 494.3,246.3 495.1,248.2 495.8,248.8 496.5,248.7 497.3,250.8 498.0,254.0 498.7,252.4 499.5,251.2 500.2,256.0 500.9,257.1 501.6,254.4 502.4,258.7 503.1,256.3 503.8,258.3 504.6,259.2 505.3,264.2 506.0,261.8 506.8,263.8 507.5,266.0 508.2,269.0 509.0,271.0 509.7,267.5 510.4,273.8 511.1,272.6 511.9,275.2 512.6,275.2 513.3,272.1 514.1,274.2 514.8,274.0 515.5,275.7 516.3,279.1 517.0,276.5 517.7,276.1 518.5,284.5 519.2,277.0 519.9,279.6 520.6,280.1 521.4,278.3 522.1,284.2 522.8,285.6 523.6,283.2 524.3,283.2 525.0,282.5 525.8,278.9 526.5,284.3 527.2,282.1 528.0,284.0 528.7,287.8 529.4,289.2 530.1,284.9 530.9,289.3 531.6,290.5 532.3,286.5 533.1,285.5 533.8,285.5 534.5,283.8 535.3,282.9 536.0,286.5 536.7,286.7 537.5,283.8 538.2,283.4 538.9,283.3 539.7,283.8 540.4,284.3 541.1,284.3 541.8,290.9 542.6,288.5 543.3,289.4 544.0,292.7 544.8,287.3 545.5,290.0 546.2,286.5 547.0,289.5 547.7,293.1 548.4,291.7 549.2,289.9 549.9,291.1 550.6,296.4 551.3,294.3 552.1,298.5 552.8,297.5 553.5,295.7 554.3,295.7 555.0,297.2 555.7,295.4 556.5,293.4 557.2,296.4 557.9,294.5 558.7,293.5 559.4,293.6 560.1,291.5 560.8,293.4 561.6,291.3 562.3,291.3 563.0,292.6 563.8,295.2 564.5,293.8 565.2,296.1 566.0,296.0 566.7,296.7 567.4,298.2 568.2,303.4 568.9,296.5 569.6,297.9 570.3,297.3 571.1,296.0 571.8,295.5 572.5,298.6 573.3,292.9 574.0,296.7 574.7,294.0 575.5,290.1 576.2,290.0 576.9,289.7 577.7,288.0 578.4,292.6 579.1,291.2 579.8,291.9 580.6,288.7 581.3,292.8 582.0,290.6 582.8,296.9 583.5,290.6 584.2,290.8 585.0,290.9 585.7,288.8 586.4,288.7 587.2,288.6 587.9,291.1 588.6,287.7 589.3,289.5 590.1,290.7 590.8,288.8 591.5,286.7 592.3,287.8 593.0,290.8 593.7,290.8 594.5,295.7 595.2,294.1 595.9,294.1 596.7,292.2 597.4,296.2 598.1,294.8 598.8,293.8 599.6,294.3 600.3,300.6 601.0,293.3 601.8,292.3 602.5,297.2 603.2,296.9 604.0,294.9 604.7,298.1 605.4,291.2 606.2,292.8 606.9,289.9 607.6,296.8 608.3,294.1 609.1,300.4 609.8,295.4 610.5,295.1 611.3,291.5 612.0,291.8 612.7,294.4 613.5,298.5 614.2,295.1 614.9,293.1 615.7,301.1 616.4,302.2 617.1,298.9 617.8,302.7 618.6,305.0 619.3,304.8 620.0,297.8 620.8,300.1 621.5,296.5 622.2,298.7 623.0,295.6 623.7,292.1 624.4,295.3 625.2,296.5 625.9,292.2 626.6,292.6 627.4,294.0 628.1,294.4 628.8,293.3 629.5,290.6 630.3,291.0 631.0,294.0 631.7,293.8 632.5,289.8 633.2,291.7 633.9,295.5 634.7,291.4 635.4,291.2 636.1,290.3 636.9,292.1 637.6,290.7 638.3,289.6 639.0,287.6 639.8,289.2 640.5,293.4 641.2,296.2 642.0,302.6 642.7,299.0 643.4,305.7 644.2,302.3 644.9,303.4 645.6,305.8 646.4,301.7 647.1,301.0 647.8,300.5 648.5,302.4 649.3,301.5 650.0,297.0 650.7,297.9 651.5,300.7 652.2,298.5 652.9,294.7 653.7,296.8 654.4,297.6 655.1,299.2 655.9,296.5 656.6,300.8 657.3,296.7 658.0,301.6 658.8,296.7 659.5,301.1 660.2,298.6 661.0,302.0 661.7,304.0 662.4,303.9 663.2,302.4 663.9,298.0 664.6,297.4 665.4,291.7 666.1,302.3 666.8,301.8 667.5,301.6 668.3,296.8 669.0,305.7 669.7,297.9 670.5,301.2 671.2,295.4" fill="none" stroke="#00ffff" stroke-width="1.6" stroke-linejoin="round" clip-path="url(#cr)"/><path d="M439.5 5.5h0M440.3 11.4h0M441.0 21.6h0M441.7 29.1h0M442.4 40.6h0M443.2 49.0h0M443.9 52.3h0M444.6 59.5h0M445.4 65.5h0M446.1 72.4h0M446.8 80.1h0M447.6 80.7h0M448.3 90.6h0M449.0 96.4h0M449.8 94.7h0M450.5 100.4h0M451.2 111.5h0M452.0 109.5h0M452.7 113.9h0M453.4 117.6h0M454.1 117.7h0M454.9 120.2h0M455.6 124.6h0M456.3 129.4h0M457.1 133.7h0M457.8 139.9h0M458.5 147.0h0M459.3 147.5h0M460.0 154.2h0M460.7 156.0h0M461.5 159.8h0M462.2 162.2h0M462.9 162.8h0M463.6 167.5h0M464.4 170.8h0M465.1 171.1h0M465.8 178.2h0M466.6 180.1h0M467.3 181.7h0M468.0 181.8h0M468.8 179.4h0M469.5 195.2h0M470.2 196.8h0M471.0 192.6h0M471.7 200.2h0M472.4 198.5h0M473.1 203.3h0M473.9 202.4h0M474.6 206.0h0M475.3 204.5h0M476.1 205.5h0M476.8 206.4h0M477.5 210.6h0M478.3 207.0h0M479.0 216.2h0M479.7 218.2h0M480.5 218.1h0M481.2 222.2h0M481.9 224.0h0M482.6 228.0h0M483.4 232.7h0M484.1 231.5h0M484.8 237.6h0M485.6 241.4h0M486.3 243.2h0M487.0 246.9h0M487.8 244.0h0M488.5 246.9h0M489.2 252.0h0M490.0 247.3h0M490.7 247.7h0M491.4 248.6h0M492.1 250.6h0M492.9 247.8h0M493.6 249.2h0M494.3 246.3h0M495.1 248.2h0M495.8 248.8h0M496.5 248.7h0M497.3 250.8h0M498.0 254.0h0M498.7 252.4h0M499.5 251.2h0M500.2 256.0h0M500.9 257.1h0M501.6 254.4h0M502.4 258.7h0M503.1 256.3h0M503.8 258.3h0M504.6 259.2h0M505.3 264.2h0M506.0 261.8h0M506.8 263.8h0M507.5 266.0h0M508.2 269.0h0M509.0 271.0h0M509.7 267.5h0M510.4 273.8h0M511.1 272.6h0M511.9 275.2h0M512.6 275.2h0M513.3 272.1h0M514.1 274.2h0M514.8 274.0h0M515.5 275.7h0M516.3 279.1h0M517.0 276.5h0M517.7 276.1h0M518.5 284.5h0M519.2 277.0h0M519.9 279.6h0M520.6 280.1h0M521.4 278.3h0M522.1 284.2h0M522.8 285.6h0M523.6 283.2h0M524.3 283.2h0M525.0 282.5h0M525.8 278.9h0M526.5 284.3h0M527.2 282.1h0M528.0 284.0h0M528.7 287.8h0M529.4 289.2h0M530.1 284.9h0M530.9 289.3h0M531.6 290.5h0M532.3 286.5h0M533.1 285.5h0M533.8 285.5h0M534.5 283.8h0M535.3 282.9h0M536.0 286.5h0M536.7 286.7h0M537.5 283.8h0M538.2 283.4h0M538.9 283.3h0M539.7 283.8h0M540.4 284.3h0M541.1 284.3h0M541.8 290.9h0M542.6 288.5h0M543.3 289.4h0M544.0 292.7h0M544.8 287.3h0M545.5 290.0h0M546.2 286.5h0M547.0 289.5h0M547.7 293.1h0M548.4 291.7h0M549.2 289.9h0M549.9 291.1h0M550.6 296.4h0M551.3 294.3h0M552.1 298.5h0M552.8 297.5h0M553.5 295.7h0M554.3 295.7h0M555.0 297.2h0M555.7 295.4h0M556.5 293.4h0M557.2 296.4h0M557.9 294.5h0M558.7 293.5h0M559.4 293.6h0M560.1 291.5h0M560.8 293.4h0M561.6 291.3h0M562.3 291.3h0M563.0 292.6h0M563.8 295.2h0M564.5 293.8h0M565.2 296.1h0M566.0 296.0h0M566.7 296.7h0M567.4 298.2h0M568.2 303.4h0M568.9 296.5h0M569.6 297.9h0M570.3 297.3h0M571.1 296.0h0M571.8 295.5h0M572.5 298.6h0M573.3 292.9h0M574.0 296.7h0M574.7 294.0h0M575.5 290.1h0M576.2 290.0h0M576.9 289.7h0M577.7 288.0h0M578.4 292.6h0M579.1 291.2h0M579.8 291.9h0M580.6 288.7h0M581.3 292.8h0M582.0 290.6h0M582.8 296.9h0M583.5 290.6h0M584.2 290.8h0M585.0 290.9h0M585.7 288.8h0M586.4 288.7h0M587.2 288.6h0M587.9 291.1h0M588.6 287.7h0M589.3 289.5h0M590.1 290.7h0M590.8 288.8h0M591.5 286.7h0M592.3 287.8h0M593.0 290.8h0M593.7 290.8h0M594.5 295.7h0M595.2 294.1h0M595.9 294.1h0M596.7 292.2h0M597.4 296.2h0M598.1 294.8h0M598.8 293.8h0M599.6 294.3h0M600.3 300.6h0M601.0 293.3h0M601.8 292.3h0M602.5 297.2h0M603.2 296.9h0M604.0 294.9h0M604.7 298.1h0M605.4 291.2h0M606.2 292.8h0M606.9 289.9h0M607.6 296.8h0M608.3 294.1h0M609.1 300.4h0M609.8 295.4h0M610.5 295.1h0M611.3 291.5h0M612.0 291.8h0M612.7 294.4h0M613.5 298.5h0M614.2 295.1h0M614.9 293.1h0M615.7 301.1h0M616.4 302.2h0M617.1 298.9h0M617.8 302.7h0M618.6 305.0h0M619.3 304.8h0M620.0 297.8h0M620.8 300.1h0M621.5 296.5h0M622.2 298.7h0M623.0 295.6h0M623.7 292.1h0M624.4 295.3h0M625.2 296.5h0M625.9 292.2h0M626.6 292.6h0M627.4 294.0h0M628.1 294.4h0M628.8 293.3h0M629.5 290.6h0M630.3 291.0h0M631.0 294.0h0M631.7 293.8h0M632.5 289.8h0M633.2 291.7h0M633.9 295.5h0M634.7 291.4h0M635.4 291.2h0M636.1 290.3h0M636.9 292.1h0M637.6 290.7h0M638.3 289.6h0M639.0 287.6h0M639.8 289.2h0M640.5 293.4h0M641.2 296.2h0M642.0 302.6h0M642.7 299.0h0M643.4 305.7h0M644.2 302.3h0M644.9 303.4h0M645.6 305.8h0M646.4 301.7h0M647.1 301.0h0M647.8 300.5h0M648.5 302.4h0M649.3 301.5h0M650.0 297.0h0M650.7 297.9h0M651.5 300.7h0M652.2 298.5h0M652.9 294.7h0M653.7 296.8h0M654.4 297.6h0M655.1 299.2h0M655.9 296.5h0M656.6 300.8h0M657.3 296.7h0M658.0 301.6h0M658.8 296.7h0M659.5 301.1h0M660.2 298.6h0M661.0 302.0h0M661.7 304.0h0M662.4 303.9h0M663.2 302.4h0M663.9 298.0h0M664.6 297.4h0M665.4 291.7h0M666.1 302.3h0M666.8 301.8h0M667.5 301.6h0M668.3 296.8h0M669.0 305.7h0M669.7 297.9h0M670.5 301.2h0M671.2 295.4h0" stroke="#00ffff" stroke-width="4.4" stroke-linecap="round" clip-path="url(#crd)"/><polyline points="408.1,-199.3 408.8,-193.9 409.6,-188.3 410.3,-188.1 411.0,-177.0 411.8,-177.9 412.5,-165.5 413.2,-160.7 413.9,-154.6 414.7,-149.2 415.4,-144.7 416.1,-140.8 416.9,-134.2 417.6,-124.5 418.3,-124.3 419.1,-118.4 419.8,-114.8 420.5,-109.1 421.3,-103.5 422.0,-96.6 422.7,-91.9 423.4,-86.4 424.2,-81.8 424.9,-75.3 425.6,-74.2 426.4,-66.4 427.1,-58.2 427.8,-57.1 428.6,-48.8 429.3,-35.7 430.0,-38.5 430.8,-34.6 431.5,-28.5 432.2,-20.1 432.9,-15.8 433.7,-19.2 434.4,-10.6 435.1,-7.9 435.9,-5.3 436.6,-5.3 437.3,4.7 438.1,3.9 438.8,10.1 439.5,13.6 440.3,21.4 441.0,23.4 441.7,22.3 442.4,29.8 443.2,38.8 443.9,39.4 444.6,47.2 445.4,55.4 446.1,57.9 446.8,65.5 447.6,70.8 448.3,80.3 449.0,83.2 449.8,91.1 450.5,94.2 451.2,99.6 452.0,102.6 452.7,109.4 453.4,112.0 454.1,114.6 454.9,124.3 455.6,128.8 456.3,137.3 457.1,138.9 457.8,145.1 458.5,147.1 459.3,144.4 460.0,153.3 460.7,160.1 461.5,159.8 462.2,158.8 462.9,168.7 463.6,168.2 464.4,170.3 465.1,172.2 465.8,175.5 466.6,180.5 467.3,179.1 468.0,186.3 468.8,188.6 469.5,194.5 470.2,191.8 471.0,200.4 471.7,200.7 472.4,205.4 473.1,202.2 473.9,207.6 474.6,208.6 475.3,203.8 476.1,206.1 476.8,204.9 477.5,203.0 478.3,204.9 479.0,212.3 479.7,220.7 480.5,226.0 481.2,226.3 481.9,226.6 482.6,234.4 483.4,234.3 484.1,238.8 484.8,241.4 485.6,241.7 486.3,244.7 487.0,242.7 487.8,245.3 488.5,243.3 489.2,244.1 490.0,247.7 490.7,252.8 491.4,249.1 492.1,253.5 492.9,251.3 493.6,252.1 494.3,250.1 495.1,251.9 495.8,257.5 496.5,257.9 497.3,255.8 498.0,258.1 498.7,264.6 499.5,262.6 500.2,268.5 500.9,266.5 501.6,271.9 502.4,275.4 503.1,275.8 503.8,277.1 504.6,279.1 505.3,276.9 506.0,275.5 506.8,276.4 507.5,274.7 508.2,271.1 509.0,267.9 509.7,269.8 510.4,271.8 511.1,271.2 511.9,268.2 512.6,273.4 513.3,278.2 514.1,269.7 514.8,271.9 515.5,275.0 516.3,270.2 517.0,269.7 517.7,270.6 518.5,270.9 519.2,268.1 519.9,271.2 520.6,264.4 521.4,270.3 522.1,272.5 522.8,274.9 523.6,279.4 524.3,278.8 525.0,282.1 525.8,278.7 526.5,280.3 527.2,278.2 528.0,279.5 528.7,282.5 529.4,280.9 530.1,285.2 530.9,286.3 531.6,289.7 532.3,291.9 533.1,294.0 533.8,285.8 534.5,288.5 535.3,290.4 536.0,290.9 536.7,289.9 537.5,282.1 538.2,282.7 538.9,284.5 539.7,285.7 540.4,285.0 541.1,286.2 541.8,287.1 542.6,285.3 543.3,287.1 544.0,287.9 544.8,285.3 545.5,289.7 546.2,282.0 547.0,288.8 547.7,294.1 548.4,292.3 549.2,294.1 549.9,291.7 550.6,289.1 551.3,290.9 552.1,295.6 552.8,286.5 553.5,287.6 554.3,285.0 555.0,286.9 555.7,286.3 556.5,288.5 557.2,284.6 557.9,289.6 558.7,286.4 559.4,283.4 560.1,282.5 560.8,282.5 561.6,287.3 562.3,291.9 563.0,287.1 563.8,285.2 564.5,287.8 565.2,287.1 566.0,287.0 566.7,285.9 567.4,291.6 568.2,296.7 568.9,297.5 569.6,298.2 570.3,297.4 571.1,298.9 571.8,299.6 572.5,295.4 573.3,294.7 574.0,291.9 574.7,294.4 575.5,289.0 576.2,292.2 576.9,292.4 577.7,292.0 578.4,291.2 579.1,287.3 579.8,285.3 580.6,284.4 581.3,283.4 582.0,281.0 582.8,281.7 583.5,280.6 584.2,279.4 585.0,282.8 585.7,281.6 586.4,284.7 587.2,287.7 587.9,287.9 588.6,283.6 589.3,286.2 590.1,285.1 590.8,290.5 591.5,288.7 592.3,287.1 593.0,284.2 593.7,284.3 594.5,286.6 595.2,285.7 595.9,285.1 596.7,287.3 597.4,282.4 598.1,279.9 598.8,281.7 599.6,281.3 600.3,284.1 601.0,282.8 601.8,284.5 602.5,279.8 603.2,287.3 604.0,284.5 604.7,281.5 605.4,284.1 606.2,286.2 606.9,285.3 607.6,284.2 608.3,287.1 609.1,288.5 609.8,283.5 610.5,282.5 611.3,284.6 612.0,290.3 612.7,294.0 613.5,293.5 614.2,298.7 614.9,299.2 615.7,297.0 616.4,295.3 617.1,295.9 617.8,297.9 618.6,301.5 619.3,300.1 620.0,294.5 620.8,293.6 621.5,297.2 622.2,295.5 623.0,293.3 623.7,297.2 624.4,298.0 625.2,295.4 625.9,292.7 626.6,295.0 627.4,292.3 628.1,293.2 628.8,294.3 629.5,302.5 630.3,304.1 631.0,299.7 631.7,301.2 632.5,300.9 633.2,302.3 633.9,303.3 634.7,303.3 635.4,303.1 636.1,303.7 636.9,302.4 637.6,298.0 638.3,302.6 639.0,299.6 639.8,300.4 640.5,299.0 641.2,295.5 642.0,296.4 642.7,299.7 643.4,300.1 644.2,299.3 644.9,300.9 645.6,304.9 646.4,303.3 647.1,303.0 647.8,301.5 648.5,303.1 649.3,301.2 650.0,308.0 650.7,302.4 651.5,302.5 652.2,308.8 652.9,305.3 653.7,304.3 654.4,307.9 655.1,302.3 655.9,309.7 656.6,309.8 657.3,311.2 658.0,309.1 658.8,313.8 659.5,311.5 660.2,311.3 661.0,312.8 661.7,310.3 662.4,312.1 663.2,308.6 663.9,309.2 664.6,311.8 665.4,310.6 666.1,311.4 666.8,307.0 667.5,306.8 668.3,303.6 669.0,303.9 669.7,303.4 670.5,302.5 671.2,299.8" fill="none" stroke="#ff0000" stroke-width="1.6" stroke-linejoin="round" clip-path="url(#cr)"/><path d="M438.8 10.1h0M439.5 13.6h0M440.3 21.4h0M441.0 23.4h0M441.7 22.3h0M442.4 29.8h0M443.2 38.8h0M443.9 39.4h0M444.6 47.2h0M445.4 55.4h0M446.1 57.9h0M446.8 65.5h0M447.6 70.8h0M448.3 80.3h0M449.0 83.2h0M449.8 91.1h0M450.5 94.2h0M451.2 99.6h0M452.0 102.6h0M452.7 109.4h0M453.4 112.0h0M454.1 114.6h0M454.9 124.3h0M455.6 128.8h0M456.3 137.3h0M457.1 138.9h0M457.8 145.1h0M458.5 147.1h0M459.3 144.4h0M460.0 153.3h0M460.7 160.1h0M461.5 159.8h0M462.2 158.8h0M462.9 168.7h0M463.6 168.2h0M464.4 170.3h0M465.1 172.2h0M465.8 175.5h0M466.6 180.5h0M467.3 179.1h0M468.0 186.3h0M468.8 188.6h0M469.5 194.5h0M470.2 191.8h0M471.0 200.4h0M471.7 200.7h0M472.4 205.4h0M473.1 202.2h0M473.9 207.6h0M474.6 208.6h0M475.3 203.8h0M476.1 206.1h0M476.8 204.9h0M477.5 203.0h0M478.3 204.9h0M479.0 212.3h0M479.7 220.7h0M480.5 226.0h0M481.2 226.3h0M481.9 226.6h0M482.6 234.4h0M483.4 234.3h0M484.1 238.8h0M484.8 241.4h0M485.6 241.7h0M486.3 244.7h0M487.0 242.7h0M487.8 245.3h0M488.5 243.3h0M489.2 244.1h0M490.0 247.7h0M490.7 252.8h0M491.4 249.1h0M492.1 253.5h0M492.9 251.3h0M493.6 252.1h0M494.3 250.1h0M495.1 251.9h0M495.8 257.5h0M496.5 257.9h0M497.3 255.8h0M498.0 258.1h0M498.7 264.6h0M499.5 262.6h0M500.2 268.5h0M500.9 266.5h0M501.6 271.9h0M502.4 275.4h0M503.1 275.8h0M503.8 277.1h0M504.6 279.1h0M505.3 276.9h0M506.0 275.5h0M506.8 276.4h0M507.5 274.7h0M508.2 271.1h0M509.0 267.9h0M509.7 269.8h0M510.4 271.8h0M511.1 271.2h0M511.9 268.2h0M512.6 273.4h0M513.3 278.2h0M514.1 269.7h0M514.8 271.9h0M515.5 275.0h0M516.3 270.2h0M517.0 269.7h0M517.7 270.6h0M518.5 270.9h0M519.2 268.1h0M519.9 271.2h0M520.6 264.4h0M521.4 270.3h0M522.1 272.5h0M522.8 274.9h0M523.6 279.4h0M524.3 278.8h0M525.0 282.1h0M525.8 278.7h0M526.5 280.3h0M527.2 278.2h0M528.0 279.5h0M528.7 282.5h0M529.4 280.9h0M530.1 285.2h0M530.9 286.3h0M531.6 289.7h0M532.3 291.9h0M533.1 294.0h0M533.8 285.8h0M534.5 288.5h0M535.3 290.4h0M536.0 290.9h0M536.7 289.9h0M537.5 282.1h0M538.2 282.7h0M538.9 284.5h0M539.7 285.7h0M540.4 285.0h0M541.1 286.2h0M541.8 287.1h0M542.6 285.3h0M543.3 287.1h0M544.0 287.9h0M544.8 285.3h0M545.5 289.7h0M546.2 282.0h0M547.0 288.8h0M547.7 294.1h0M548.4 292.3h0M549.2 294.1h0M549.9 291.7h0M550.6 289.1h0M551.3 290.9h0M552.1 295.6h0M552.8 286.5h0M553.5 287.6h0M554.3 285.0h0M555.0 286.9h0M555.7 286.3h0M556.5 288.5h0M557.2 284.6h0M557.9 289.6h0M558.7 286.4h0M559.4 283.4h0M560.1 282.5h0M560.8 282.5h0M561.6 287.3h0M562.3 291.9h0M563.0 287.1h0M563.8 285.2h0M564.5 287.8h0M565.2 287.1h0M566.0 287.0h0M566.7 285.9h0M567.4 291.6h0M568.2 296.7h0M568.9 297.5h0M569.6 298.2h0M570.3 297.4h0M571.1 298.9h0M571.8 299.6h0M572.5 295.4h0M573.3 294.7h0M574.0 291.9h0M574.7 294.4h0M575.5 289.0h0M576.2 292.2h0M576.9 292.4h0M577.7 292.0h0M578.4 291.2h0M579.1 287.3h0M579.8 285.3h0M580.6 284.4h0M581.3 283.4h0M582.0 281.0h0M582.8 281.7h0M583.5 280.6h0M584.2 279.4h0M585.0 282.8h0M585.7 281.6h0M586.4 284.7h0M587.2 287.7h0M587.9 287.9h0M588.6 283.6h0M589.3 286.2h0M590.1 285.1h0M590.8 290.5h0M591.5 288.7h0M592.3 287.1h0M593.0 284.2h0M593.7 284.3h0M594.5 286.6h0M595.2 285.7h0M595.9 285.1h0M596.7 287.3h0M597.4 282.4h0M598.1 279.9h0M598.8 281.7h0M599.6 281.3h0M600.3 284.1h0M601.0 282.8h0M601.8 284.5h0M602.5 279.8h0M603.2 287.3h0M604.0 284.5h0M604.7 281.5h0M605.4 284.1h0M606.2 286.2h0M606.9 285.3h0M607.6 284.2h0M608.3 287.1h0M609.1 288.5h0M609.8 283.5h0M610.5 282.5h0M611.3 284.6h0M612.0 290.3h0M612.7 294.0h0M613.5 293.5h0M614.2 298.7h0M614.9 299.2h0M615.7 297.0h0M616.4 295.3h0M617.1 295.9h0M617.8 297.9h0M618.6 301.5h0M619.3 300.1h0M620.0 294.5h0M620.8 293.6h0M621.5 297.2h0M622.2 295.5h0M623.0 293.3h0M623.7 297.2h0M624.4 298.0h0M625.2 295.4h0M625.9 292.7h0M626.6 295.0h0M627.4 292.3h0M628.1 293.2h0M628.8 294.3h0M629.5 302.5h0M630.3 304.1h0M631.0 299.7h0M631.7 301.2h0M632.5 300.9h0M633.2 302.3h0M633.9 303.3h0M634.7 303.3h0M635.4 303.1h0M636.1 303.7h0M636.9 302.4h0M637.6 298.0h0M638.3 302.6h0M639.0 299.6h0M639.8 300.4h0M640.5 299.0h0M641.2 295.5h0M642.0 296.4h0M642.7 299.7h0M643.4 300.1h0M644.2 299.3h0M644.9 300.9h0M645.6 304.9h0M646.4 303.3h0M647.1 303.0h0M647.8 301.5h0M648.5 303.1h0M649.3 301.2h0M650.0 308.0h0M650.7 302.4h0M651.5 302.5h0M652.2 308.8h0M652.9 305.3h0M653.7 304.3h0M654.4 307.9h0M655.1 302.3h0M655.9 309.7h0M656.6 309.8h0M657.3 311.2h0M658.0 309.1h0M658.8 313.8h0M659.5 311.5h0M660.2 311.3h0M661.0 312.8h0M661.7 310.3h0M662.4 312.1h0M663.2 308.6h0M663.9 309.2h0M664.6 311.8h0M665.4 310.6h0M666.1 311.4h0M666.8 307.0h0M667.5 306.8h0M668.3 303.6h0M669.0 303.9h0M669.7 303.4h0M670.5 302.5h0M671.2 299.8h0" stroke="#ff0000" stroke-width="4.4" stroke-linecap="round" clip-path="url(#crd)"/></g><line x1="408.1" y1="215.60" x2="671.2" y2="215.60" stroke="#000" stroke-width="2" stroke-dasharray="9 8.55" stroke-dashoffset="3.0"/><line x1="419.50" y1="332.00" x2="484.80" y2="332.00" stroke="#00ff00" stroke-width="2"/><circle cx="452.10" cy="332.00" r="2.1" fill="#00ff00"/><text x="489.60" y="339.10" font-size="17.4" stroke="#262626" stroke-width="0.3">BDS-3</text><line x1="419.50" y1="355.50" x2="484.80" y2="355.50" stroke="#0000ff" stroke-width="2"/><circle cx="452.10" cy="355.50" r="2.1" fill="#0000ff"/><text x="489.60" y="362.60" font-size="17.4" stroke="#262626" stroke-width="0.3">BDS-3+QZSS</text><line x1="419.50" y1="379.00" x2="484.80" y2="379.00" stroke="#00ffff" stroke-width="2"/><circle cx="452.10" cy="379.00" r="2.1" fill="#00ffff"/><text x="489.60" y="386.10" font-size="17.4" stroke="#262626" stroke-width="0.3">BDS-3+2</text><line x1="419.50" y1="402.50" x2="484.80" y2="402.50" stroke="#ff0000" stroke-width="2"/><circle cx="452.10" cy="402.50" r="2.1" fill="#ff0000"/><text x="489.60" y="409.60" font-size="17.4" stroke="#262626" stroke-width="0.3">BDS-3+2+QZSS</text>
</g></svg></body></html>
